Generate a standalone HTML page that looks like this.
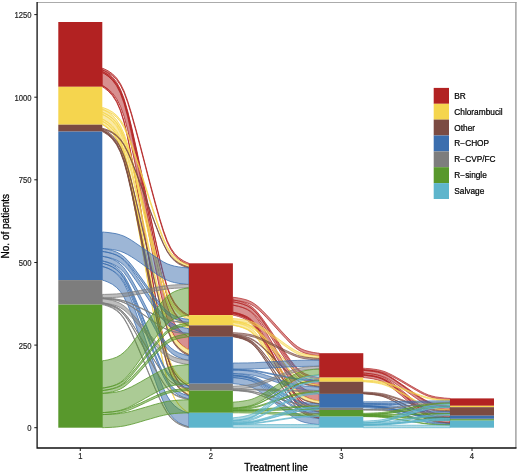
<!DOCTYPE html>
<html><head><meta charset="utf-8"><title>Treatment lines</title>
<style>
html,body{margin:0;padding:0;background:#fff}
body{width:520px;height:475px;position:relative;overflow:hidden;font-family:"Liberation Sans",sans-serif}
svg text{font-family:"Liberation Sans",sans-serif}
.t{font-size:8.5px;fill:#262626;stroke:#262626;stroke-width:0.2px}
.a{font-size:10px;fill:#000;stroke:#000;stroke-width:0.3px}
.l{font-size:8.3px;fill:#000;stroke:#000;stroke-width:0.22px}
</style></head><body>
<svg width="520" height="475" viewBox="0 0 520 475" style="position:absolute;left:0;top:0;will-change:transform">
<rect width="520" height="475" fill="#fff"/>
<path d="M37.1,2.5 H516.5" fill="none" stroke="#ababab" stroke-width="1"/>
<path d="M515.9,2 V448" fill="none" stroke="#9c9c9c" stroke-width="1.4"/>
<g stroke-width="0.8" fill-opacity="0.5" stroke-linejoin="round">
<path d="M102.3,68.2 L102.6,68.3 L104.4,69 L108,70.8 L112.4,73.8 L116.6,78 L120.4,83.6 L124,90.9 L127.6,100.7 L131.5,113.3 L135.8,128.7 L140.6,146.5 L145.6,165.8 L150.6,185 L155.4,202.8 L159.7,218.2 L163.6,230.8 L167.2,240.6 L170.8,248 L174.6,253.5 L178.8,257.7 L183.2,260.7 L186.8,262.5 L188.6,263.2 L188.9,263.3 L188.9,265 L188.6,264.9 L186.8,264.2 L183.2,262.4 L178.8,259.4 L174.6,255.2 L170.8,249.6 L167.2,242.3 L163.6,232.5 L159.7,219.9 L155.4,204.5 L150.6,186.7 L145.6,167.4 L140.6,148.2 L135.8,130.4 L131.5,115 L127.6,102.4 L124,92.6 L120.4,85.2 L116.6,79.7 L112.4,75.5 L108,72.5 L104.4,70.7 L102.6,70 L102.3,69.9Z" fill="#B22222" stroke="#B22222"/>
<path d="M102.3,69.9 L102.6,70 L104.4,70.9 L108,73.2 L112.4,76.9 L116.6,82.2 L120.4,89.2 L124,98.4 L127.6,110.8 L131.5,126.6 L135.8,145.9 L140.6,168.3 L145.6,192.5 L150.6,216.7 L155.4,239.1 L159.7,258.4 L163.6,274.2 L167.2,286.6 L170.8,295.8 L174.6,302.8 L178.8,308.1 L183.2,311.8 L186.8,314.1 L188.6,315 L188.9,315.1 L188.9,316.7 L188.6,316.5 L186.8,315.6 L183.2,313.4 L178.8,309.6 L174.6,304.3 L170.8,297.4 L167.2,288.1 L163.6,275.8 L159.7,260 L155.4,240.6 L150.6,218.2 L145.6,194.1 L140.6,169.9 L135.8,147.5 L131.5,128.1 L127.6,112.3 L124,100 L120.4,90.7 L116.6,83.8 L112.4,78.5 L108,74.7 L104.4,72.5 L102.6,71.6 L102.3,71.5Z" fill="#B22222" stroke="#B22222"/>
<path d="M102.3,71.5 L102.6,71.6 L104.4,72.5 L108,74.8 L112.4,78.7 L116.6,84.2 L120.4,91.4 L124,101 L127.6,113.8 L131.5,130.2 L135.8,150.2 L140.6,173.4 L145.6,198.4 L150.6,223.5 L155.4,246.7 L159.7,266.7 L163.6,283.1 L167.2,295.8 L170.8,305.4 L174.6,312.6 L178.8,318.1 L183.2,322 L186.8,324.4 L188.6,325.3 L188.9,325.4 L188.9,326.5 L188.6,326.4 L186.8,325.5 L183.2,323.2 L178.8,319.3 L174.6,313.8 L170.8,306.6 L167.2,297 L163.6,284.2 L159.7,267.8 L155.4,247.8 L150.6,224.6 L145.6,199.6 L140.6,174.5 L135.8,151.3 L131.5,131.3 L127.6,114.9 L124,102.2 L120.4,92.6 L116.6,85.3 L112.4,79.9 L108,76 L104.4,73.6 L102.6,72.7 L102.3,72.6Z" fill="#B22222" stroke="#B22222"/>
<path d="M102.3,72.6 L102.6,72.7 L104.4,73.7 L108,76.1 L112.4,80.2 L116.6,85.9 L120.4,93.4 L124,103.3 L127.6,116.6 L131.5,133.7 L135.8,154.5 L140.6,178.7 L145.6,204.7 L150.6,230.7 L155.4,254.9 L159.7,275.7 L163.6,292.8 L167.2,306.1 L170.8,316 L174.6,323.5 L178.8,329.2 L183.2,333.3 L186.8,335.7 L188.6,336.7 L188.9,336.8 L188.9,349.8 L188.6,349.6 L186.8,348.7 L183.2,346.2 L178.8,342.2 L174.6,336.5 L170.8,329 L167.2,319 L163.6,305.7 L159.7,288.7 L155.4,267.8 L150.6,243.7 L145.6,217.7 L140.6,191.6 L135.8,167.5 L131.5,146.6 L127.6,129.6 L124,116.3 L120.4,106.3 L116.6,98.8 L112.4,93.1 L108,89.1 L104.4,86.7 L102.6,85.7 L102.3,85.6Z" fill="#B22222" stroke="#B22222"/>
<path d="M102.3,85.6 L102.6,85.7 L104.4,86.8 L108,89.6 L112.4,94.3 L116.6,100.9 L120.4,109.5 L124,121.1 L127.6,136.4 L131.5,156.1 L135.8,180.1 L140.6,208 L145.6,238.1 L150.6,268.2 L155.4,296 L159.7,320.1 L163.6,339.8 L167.2,355.1 L170.8,366.6 L174.6,375.3 L178.8,381.8 L183.2,386.5 L186.8,389.3 L188.6,390.4 L188.9,390.6 L188.9,391.8 L188.6,391.7 L186.8,390.6 L183.2,387.8 L178.8,383.1 L174.6,376.5 L170.8,367.9 L167.2,356.3 L163.6,341 L159.7,321.3 L155.4,297.3 L150.6,269.4 L145.6,239.3 L140.6,209.2 L135.8,181.4 L131.5,157.3 L127.6,137.6 L124,122.3 L120.4,110.8 L116.6,102.1 L112.4,95.6 L108,90.9 L104.4,88.1 L102.6,87 L102.3,86.8Z" fill="#B22222" stroke="#B22222"/>
<path d="M102.3,107.4 L102.6,107.5 L104.4,108.1 L108,109.5 L112.4,111.9 L116.6,115.3 L120.4,119.8 L124,125.7 L127.6,133.7 L131.5,143.8 L135.8,156.3 L140.6,170.7 L145.6,186.2 L150.6,201.7 L155.4,216.1 L159.7,228.6 L163.6,238.7 L167.2,246.6 L170.8,252.6 L174.6,257.1 L178.8,260.5 L183.2,262.9 L186.8,264.3 L188.6,264.9 L188.9,265 L188.9,267 L188.6,266.9 L186.8,266.4 L183.2,264.9 L178.8,262.5 L174.6,259.1 L170.8,254.6 L167.2,248.7 L163.6,240.8 L159.7,230.6 L155.4,218.2 L150.6,203.8 L145.6,188.2 L140.6,172.7 L135.8,158.3 L131.5,145.9 L127.6,135.7 L124,127.8 L120.4,121.8 L116.6,117.4 L112.4,114 L108,111.6 L104.4,110.1 L102.6,109.5 L102.3,109.5Z" fill="#F5D54E" stroke="#F5D54E"/>
<path d="M102.3,109.5 L102.6,109.6 L104.4,110.3 L108,112.2 L112.4,115.4 L116.6,119.9 L120.4,125.7 L124,133.6 L127.6,144 L131.5,157.3 L135.8,173.7 L140.6,192.6 L145.6,213.1 L150.6,233.5 L155.4,252.4 L159.7,268.8 L163.6,282.1 L167.2,292.5 L170.8,300.4 L174.6,306.3 L178.8,310.7 L183.2,313.9 L186.8,315.8 L188.6,316.6 L188.9,316.7 L188.9,319.5 L188.6,319.4 L186.8,318.6 L183.2,316.7 L178.8,313.6 L174.6,309.1 L170.8,303.2 L167.2,295.4 L163.6,285 L159.7,271.6 L155.4,255.3 L150.6,236.3 L145.6,215.9 L140.6,195.5 L135.8,176.5 L131.5,160.2 L127.6,146.8 L124,136.4 L120.4,128.6 L116.6,122.7 L112.4,118.2 L108,115.1 L104.4,113.2 L102.6,112.4 L102.3,112.3Z" fill="#F5D54E" stroke="#F5D54E"/>
<path d="M102.3,112.3 L102.6,112.4 L104.4,113.2 L108,115.1 L112.4,118.4 L116.6,123.1 L120.4,129.1 L124,137.2 L127.6,148 L131.5,161.8 L135.8,178.7 L140.6,198.3 L145.6,219.4 L150.6,240.5 L155.4,260.1 L159.7,277 L163.6,290.8 L167.2,301.6 L170.8,309.7 L174.6,315.8 L178.8,320.4 L183.2,323.7 L186.8,325.7 L188.6,326.4 L188.9,326.5 L188.9,328.7 L188.6,328.6 L186.8,327.8 L183.2,325.8 L178.8,322.5 L174.6,317.9 L170.8,311.8 L167.2,303.7 L163.6,293 L159.7,279.2 L155.4,262.2 L150.6,242.7 L145.6,221.5 L140.6,200.4 L135.8,180.9 L131.5,163.9 L127.6,150.1 L124,139.4 L120.4,131.3 L116.6,125.2 L112.4,120.6 L108,117.3 L104.4,115.3 L102.6,114.5 L102.3,114.4Z" fill="#F5D54E" stroke="#F5D54E"/>
<path d="M102.3,114.4 L102.6,114.5 L104.4,115.4 L108,117.6 L112.4,121.2 L116.6,126.2 L120.4,132.9 L124,141.8 L127.6,153.6 L131.5,168.8 L135.8,187.4 L140.6,208.9 L145.6,232.1 L150.6,255.3 L155.4,276.8 L159.7,295.4 L163.6,310.5 L167.2,322.4 L170.8,331.3 L174.6,337.9 L178.8,343 L183.2,346.6 L186.8,348.8 L188.6,349.6 L188.9,349.8 L188.9,354.5 L188.6,354.4 L186.8,353.5 L183.2,351.3 L178.8,347.7 L174.6,342.7 L170.8,336 L167.2,327.1 L163.6,315.2 L159.7,300.1 L155.4,281.5 L150.6,260 L145.6,236.8 L140.6,213.6 L135.8,192.1 L131.5,173.5 L127.6,158.4 L124,146.5 L120.4,137.6 L116.6,131 L112.4,125.9 L108,122.3 L104.4,120.1 L102.6,119.3 L102.3,119.1Z" fill="#F5D54E" stroke="#F5D54E"/>
<path d="M102.3,119.1 L102.6,119.3 L104.4,120.2 L108,122.7 L112.4,126.7 L116.6,132.4 L120.4,139.9 L124,149.9 L127.6,163.2 L131.5,180.3 L135.8,201.2 L140.6,225.3 L145.6,251.4 L150.6,277.5 L155.4,301.7 L159.7,322.5 L163.6,339.6 L167.2,352.9 L170.8,362.9 L174.6,370.4 L178.8,376.1 L183.2,380.2 L186.8,382.6 L188.6,383.6 L188.9,383.7 L188.9,385.8 L188.6,385.7 L186.8,384.7 L183.2,382.3 L178.8,378.2 L174.6,372.6 L170.8,365 L167.2,355.1 L163.6,341.7 L159.7,324.7 L155.4,303.8 L150.6,279.6 L145.6,253.6 L140.6,227.5 L135.8,203.3 L131.5,182.4 L127.6,165.4 L124,152.1 L120.4,142.1 L116.6,134.6 L112.4,128.9 L108,124.8 L104.4,122.4 L102.6,121.4 L102.3,121.3Z" fill="#F5D54E" stroke="#F5D54E"/>
<path d="M102.3,121.3 L102.6,121.4 L104.4,122.4 L108,124.9 L112.4,129 L116.6,134.9 L120.4,142.5 L124,152.8 L127.6,166.4 L131.5,183.8 L135.8,205.2 L140.6,229.9 L145.6,256.6 L150.6,283.2 L155.4,307.9 L159.7,329.3 L163.6,346.7 L167.2,360.4 L170.8,370.6 L174.6,378.3 L178.8,384.1 L183.2,388.2 L186.8,390.7 L188.6,391.7 L188.9,391.8 L188.9,394.8 L188.6,394.7 L186.8,393.7 L183.2,391.2 L178.8,387.1 L174.6,381.3 L170.8,373.6 L167.2,363.4 L163.6,349.8 L159.7,332.3 L155.4,311 L150.6,286.2 L145.6,259.6 L140.6,232.9 L135.8,208.2 L131.5,186.8 L127.6,169.4 L124,155.8 L120.4,145.6 L116.6,137.9 L112.4,132.1 L108,127.9 L104.4,125.4 L102.6,124.4 L102.3,124.3Z" fill="#F5D54E" stroke="#F5D54E"/>
<path d="M102.3,124.3 L102.6,124.4 L104.4,125.5 L108,128.1 L112.4,132.6 L116.6,138.8 L120.4,147 L124,157.9 L127.6,172.4 L131.5,191 L135.8,213.7 L140.6,240.1 L145.6,268.5 L150.6,297 L155.4,323.3 L159.7,346.1 L163.6,364.7 L167.2,379.2 L170.8,390.1 L174.6,398.3 L178.8,404.5 L183.2,409 L186.8,411.6 L188.6,412.7 L188.9,412.8 L188.9,413.2 L188.6,413.1 L186.8,412 L183.2,409.4 L178.8,404.9 L174.6,398.7 L170.8,390.5 L167.2,379.6 L163.6,365.1 L159.7,346.5 L155.4,323.8 L150.6,297.4 L145.6,269 L140.6,240.5 L135.8,214.2 L131.5,191.4 L127.6,172.8 L124,158.3 L120.4,147.4 L116.6,139.2 L112.4,133 L108,128.5 L104.4,125.9 L102.6,124.8 L102.3,124.7Z" fill="#F5D54E" stroke="#F5D54E"/>
<path d="M102.3,128.2 L102.6,128.3 L104.4,128.8 L108,130.1 L112.4,132.2 L116.6,135.2 L120.4,139.1 L124,144.4 L127.6,151.3 L131.5,160.3 L135.8,171.2 L140.6,183.9 L145.6,197.6 L150.6,211.3 L155.4,224 L159.7,234.9 L163.6,243.9 L167.2,250.9 L170.8,256.1 L174.6,260.1 L178.8,263 L183.2,265.2 L186.8,266.5 L188.6,267 L188.9,267 L188.9,268 L188.6,267.9 L186.8,267.4 L183.2,266.1 L178.8,264 L174.6,261 L170.8,257 L167.2,251.8 L163.6,244.8 L159.7,235.9 L155.4,224.9 L150.6,212.2 L145.6,198.5 L140.6,184.9 L135.8,172.2 L131.5,161.2 L127.6,152.3 L124,145.3 L120.4,140.1 L116.6,136.1 L112.4,133.1 L108,131 L104.4,129.7 L102.6,129.2 L102.3,129.1Z" fill="#7B4B42" stroke="#7B4B42"/>
<path d="M102.3,129.1 L102.6,129.3 L104.4,130.1 L108,132.1 L112.4,135.6 L116.6,140.5 L120.4,146.9 L124,155.4 L127.6,166.7 L131.5,181.2 L135.8,199 L140.6,219.6 L145.6,241.8 L150.6,264 L155.4,284.6 L159.7,302.4 L163.6,316.9 L167.2,328.2 L170.8,336.8 L174.6,343.2 L178.8,348 L183.2,351.5 L186.8,353.5 L188.6,354.4 L188.9,354.5 L188.9,355.7 L188.6,355.6 L186.8,354.8 L183.2,352.7 L178.8,349.3 L174.6,344.4 L170.8,338 L167.2,329.5 L163.6,318.2 L159.7,303.6 L155.4,285.8 L150.6,265.3 L145.6,243.1 L140.6,220.8 L135.8,200.3 L131.5,182.5 L127.6,167.9 L124,156.6 L120.4,148.1 L116.6,141.7 L112.4,136.9 L108,133.4 L104.4,131.3 L102.6,130.5 L102.3,130.4Z" fill="#7B4B42" stroke="#7B4B42"/>
<path d="M102.3,130.4 L102.6,130.5 L104.4,131.4 L108,133.8 L112.4,137.7 L116.6,143.2 L120.4,150.5 L124,160.1 L127.6,173 L131.5,189.4 L135.8,209.6 L140.6,232.9 L145.6,258.1 L150.6,283.3 L155.4,306.6 L159.7,326.8 L163.6,343.3 L167.2,356.1 L170.8,365.8 L174.6,373 L178.8,378.5 L183.2,382.4 L186.8,384.8 L188.6,385.7 L188.9,385.8 L188.9,386.1 L188.6,386 L186.8,385.1 L183.2,382.7 L178.8,378.8 L174.6,373.3 L170.8,366.1 L167.2,356.4 L163.6,343.6 L159.7,327.1 L155.4,306.9 L150.6,283.6 L145.6,258.4 L140.6,233.2 L135.8,209.9 L131.5,189.7 L127.6,173.3 L124,160.4 L120.4,150.8 L116.6,143.5 L112.4,138 L108,134.1 L104.4,131.7 L102.6,130.8 L102.3,130.7Z" fill="#7B4B42" stroke="#7B4B42"/>
<path d="M102.3,130.7 L102.6,130.8 L104.4,131.8 L108,134.2 L112.4,138.3 L116.6,143.9 L120.4,151.5 L124,161.4 L127.6,174.7 L131.5,191.7 L135.8,212.6 L140.6,236.7 L145.6,262.8 L150.6,288.8 L155.4,312.9 L159.7,333.8 L163.6,350.8 L167.2,364.1 L170.8,374.1 L174.6,381.6 L178.8,387.3 L183.2,391.3 L186.8,393.8 L188.6,394.7 L188.9,394.8 L188.9,395.8 L188.6,395.6 L186.8,394.7 L183.2,392.2 L178.8,388.2 L174.6,382.5 L170.8,375 L167.2,365 L163.6,351.7 L159.7,334.7 L155.4,313.9 L150.6,289.7 L145.6,263.7 L140.6,237.6 L135.8,213.5 L131.5,192.7 L127.6,175.6 L124,162.3 L120.4,152.4 L116.6,144.9 L112.4,139.2 L108,135.1 L104.4,132.7 L102.6,131.7 L102.3,131.6Z" fill="#7B4B42" stroke="#7B4B42"/>
<path d="M102.3,232 L102.6,232 L104.4,232.2 L108,232.5 L112.4,233.1 L116.6,233.8 L120.4,234.9 L124,236.2 L127.6,238 L131.5,240.3 L135.8,243.2 L140.6,246.5 L145.6,250 L150.6,253.5 L155.4,256.8 L159.7,259.7 L163.6,262 L167.2,263.8 L170.8,265.1 L174.6,266.2 L178.8,266.9 L183.2,267.5 L186.8,267.8 L188.6,267.9 L188.9,268 L188.9,284.4 L188.6,284.4 L186.8,284.3 L183.2,283.9 L178.8,283.4 L174.6,282.6 L170.8,281.6 L167.2,280.2 L163.6,278.4 L159.7,276.1 L155.4,273.3 L150.6,270 L145.6,266.5 L140.6,262.9 L135.8,259.6 L131.5,256.8 L127.6,254.5 L124,252.7 L120.4,251.3 L116.6,250.3 L112.4,249.5 L108,249 L104.4,248.6 L102.6,248.5 L102.3,248.5Z" fill="#3B6EAE" stroke="#3B6EAE"/>
<path d="M102.3,248.5 L102.6,248.5 L104.4,248.8 L108,249.4 L112.4,250.5 L116.6,252.1 L120.4,254.1 L124,256.8 L127.6,260.3 L131.5,264.9 L135.8,270.5 L140.6,277 L145.6,284 L150.6,291 L155.4,297.5 L159.7,303.1 L163.6,307.7 L167.2,311.2 L170.8,313.9 L174.6,315.9 L178.8,317.5 L183.2,318.6 L186.8,319.2 L188.6,319.5 L188.9,319.5 L188.9,322.4 L188.6,322.4 L186.8,322.2 L183.2,321.5 L178.8,320.4 L174.6,318.9 L170.8,316.9 L167.2,314.2 L163.6,310.6 L159.7,306 L155.4,300.4 L150.6,293.9 L145.6,286.9 L140.6,279.9 L135.8,273.5 L131.5,267.9 L127.6,263.3 L124,259.7 L120.4,257 L116.6,255 L112.4,253.5 L108,252.4 L104.4,251.7 L102.6,251.5 L102.3,251.4Z" fill="#3B6EAE" stroke="#3B6EAE"/>
<path d="M102.3,251.4 L102.6,251.5 L104.4,251.8 L108,252.5 L112.4,253.7 L116.6,255.3 L120.4,257.5 L124,260.4 L127.6,264.3 L131.5,269.3 L135.8,275.4 L140.6,282.4 L145.6,290.1 L150.6,297.7 L155.4,304.7 L159.7,310.8 L163.6,315.8 L167.2,319.7 L170.8,322.6 L174.6,324.8 L178.8,326.5 L183.2,327.6 L186.8,328.4 L188.6,328.6 L188.9,328.7 L188.9,333.5 L188.6,333.5 L186.8,333.2 L183.2,332.5 L178.8,331.3 L174.6,329.7 L170.8,327.5 L167.2,324.5 L163.6,320.7 L159.7,315.7 L155.4,309.6 L150.6,302.5 L145.6,294.9 L140.6,287.3 L135.8,280.3 L131.5,274.2 L127.6,269.2 L124,265.3 L120.4,262.4 L116.6,260.2 L112.4,258.5 L108,257.3 L104.4,256.6 L102.6,256.3 L102.3,256.3Z" fill="#3B6EAE" stroke="#3B6EAE"/>
<path d="M102.3,256.3 L102.6,256.4 L104.4,256.7 L108,257.6 L112.4,259.2 L116.6,261.3 L120.4,264.1 L124,267.9 L127.6,272.9 L131.5,279.3 L135.8,287.1 L140.6,296.2 L145.6,306 L150.6,315.8 L155.4,324.9 L159.7,332.7 L163.6,339.2 L167.2,344.2 L170.8,347.9 L174.6,350.7 L178.8,352.9 L183.2,354.4 L186.8,355.3 L188.6,355.7 L188.9,355.7 L188.9,360.4 L188.6,360.3 L186.8,360 L183.2,359.1 L178.8,357.5 L174.6,355.4 L170.8,352.6 L167.2,348.8 L163.6,343.8 L159.7,337.4 L155.4,329.6 L150.6,320.5 L145.6,310.7 L140.6,300.9 L135.8,291.8 L131.5,284 L127.6,277.5 L124,272.5 L120.4,268.8 L116.6,266 L112.4,263.8 L108,262.3 L104.4,261.4 L102.6,261 L102.3,261Z" fill="#3B6EAE" stroke="#3B6EAE"/>
<path d="M102.3,261 L102.6,261 L104.4,261.5 L108,262.6 L112.4,264.6 L116.6,267.3 L120.4,270.8 L124,275.5 L127.6,281.8 L131.5,289.9 L135.8,299.8 L140.6,311.2 L145.6,323.6 L150.6,335.9 L155.4,347.3 L159.7,357.2 L163.6,365.3 L167.2,371.6 L170.8,376.3 L174.6,379.9 L178.8,382.5 L183.2,384.5 L186.8,385.6 L188.6,386.1 L188.9,386.1 L188.9,388.4 L188.6,388.3 L186.8,387.9 L183.2,386.7 L178.8,384.8 L174.6,382.1 L170.8,378.6 L167.2,373.8 L163.6,367.5 L159.7,359.5 L155.4,349.6 L150.6,338.2 L145.6,325.8 L140.6,313.5 L135.8,302.1 L131.5,292.2 L127.6,284.1 L124,277.8 L120.4,273.1 L116.6,269.5 L112.4,266.8 L108,264.9 L104.4,263.8 L102.6,263.3 L102.3,263.2Z" fill="#3B6EAE" stroke="#3B6EAE"/>
<path d="M102.3,263.2 L102.6,263.3 L104.4,263.8 L108,265 L112.4,267.1 L116.6,269.9 L120.4,273.7 L124,278.7 L127.6,285.3 L131.5,293.9 L135.8,304.3 L140.6,316.4 L145.6,329.5 L150.6,342.6 L155.4,354.7 L159.7,365.1 L163.6,373.7 L167.2,380.3 L170.8,385.3 L174.6,389.1 L178.8,392 L183.2,394 L186.8,395.2 L188.6,395.7 L188.9,395.8 L188.9,399 L188.6,398.9 L186.8,398.4 L183.2,397.2 L178.8,395.2 L174.6,392.3 L170.8,388.6 L167.2,383.6 L163.6,376.9 L159.7,368.4 L155.4,357.9 L150.6,345.8 L145.6,332.7 L140.6,319.7 L135.8,307.6 L131.5,297.1 L127.6,288.5 L124,281.9 L120.4,276.9 L116.6,273.1 L112.4,270.3 L108,268.2 L104.4,267 L102.6,266.5 L102.3,266.5Z" fill="#3B6EAE" stroke="#3B6EAE"/>
<path d="M102.3,266.5 L102.6,266.5 L104.4,267.1 L108,268.4 L112.4,270.7 L116.6,273.8 L120.4,278 L124,283.5 L127.6,290.9 L131.5,300.4 L135.8,312 L140.6,325.4 L145.6,339.8 L150.6,354.3 L155.4,367.7 L159.7,379.3 L163.6,388.8 L167.2,396.1 L170.8,401.7 L174.6,405.8 L178.8,409 L183.2,411.3 L186.8,412.6 L188.6,413.1 L188.9,413.2 L188.9,426.9 L188.6,426.8 L186.8,426.2 L183.2,424.9 L178.8,422.6 L174.6,419.5 L170.8,415.3 L167.2,409.8 L163.6,402.4 L159.7,392.9 L155.4,381.3 L150.6,367.9 L145.6,353.5 L140.6,339 L135.8,325.6 L131.5,314 L127.6,304.6 L124,297.2 L120.4,291.6 L116.6,287.5 L112.4,284.3 L108,282.1 L104.4,280.7 L102.6,280.2 L102.3,280.1Z" fill="#3B6EAE" stroke="#3B6EAE"/>
<path d="M102.3,294.4 L102.6,294.4 L104.4,294.4 L108,294.3 L112.4,294.1 L116.6,293.9 L120.4,293.6 L124,293.2 L127.6,292.7 L131.5,292.1 L135.8,291.3 L140.6,290.4 L145.6,289.4 L150.6,288.4 L155.4,287.5 L159.7,286.7 L163.6,286.1 L167.2,285.6 L170.8,285.2 L174.6,284.9 L178.8,284.7 L183.2,284.6 L186.8,284.5 L188.6,284.4 L188.9,284.4 L188.9,287.8 L188.6,287.9 L186.8,287.9 L183.2,288 L178.8,288.1 L174.6,288.3 L170.8,288.6 L167.2,289 L163.6,289.5 L159.7,290.2 L155.4,290.9 L150.6,291.9 L145.6,292.8 L140.6,293.8 L135.8,294.7 L131.5,295.5 L127.6,296.2 L124,296.7 L120.4,297 L116.6,297.3 L112.4,297.5 L108,297.7 L104.4,297.8 L102.6,297.8 L102.3,297.8Z" fill="#7D7D7D" stroke="#7D7D7D"/>
<path d="M102.3,297.8 L102.6,297.8 L104.4,297.9 L108,298.2 L112.4,298.5 L116.6,299.1 L120.4,299.8 L124,300.7 L127.6,301.9 L131.5,303.5 L135.8,305.5 L140.6,307.7 L145.6,310.1 L150.6,312.6 L155.4,314.8 L159.7,316.8 L163.6,318.3 L167.2,319.6 L170.8,320.5 L174.6,321.2 L178.8,321.7 L183.2,322.1 L186.8,322.3 L188.6,322.4 L188.9,322.4 L188.9,323 L188.6,323 L186.8,322.9 L183.2,322.6 L178.8,322.3 L174.6,321.7 L170.8,321 L167.2,320.1 L163.6,318.9 L159.7,317.3 L155.4,315.3 L150.6,313.1 L145.6,310.7 L140.6,308.2 L135.8,306 L131.5,304 L127.6,302.4 L124,301.2 L120.4,300.3 L116.6,299.6 L112.4,299 L108,298.7 L104.4,298.4 L102.6,298.4 L102.3,298.3Z" fill="#7D7D7D" stroke="#7D7D7D"/>
<path d="M102.3,298.3 L102.6,298.4 L104.4,298.5 L108,298.8 L112.4,299.4 L116.6,300.1 L120.4,301.1 L124,302.4 L127.6,304.2 L131.5,306.5 L135.8,309.3 L140.6,312.5 L145.6,315.9 L150.6,319.4 L155.4,322.6 L159.7,325.4 L163.6,327.7 L167.2,329.4 L170.8,330.8 L174.6,331.8 L178.8,332.5 L183.2,333.1 L186.8,333.4 L188.6,333.5 L188.9,333.5 L188.9,333.9 L188.6,333.9 L186.8,333.7 L183.2,333.4 L178.8,332.9 L174.6,332.1 L170.8,331.1 L167.2,329.8 L163.6,328 L159.7,325.7 L155.4,323 L150.6,319.7 L145.6,316.3 L140.6,312.8 L135.8,309.6 L131.5,306.8 L127.6,304.5 L124,302.8 L120.4,301.4 L116.6,300.4 L112.4,299.7 L108,299.1 L104.4,298.8 L102.6,298.7 L102.3,298.7Z" fill="#7D7D7D" stroke="#7D7D7D"/>
<path d="M102.3,298.7 L102.6,298.7 L104.4,298.9 L108,299.5 L112.4,300.4 L116.6,301.8 L120.4,303.5 L124,305.9 L127.6,309 L131.5,312.9 L135.8,317.8 L140.6,323.5 L145.6,329.5 L150.6,335.6 L155.4,341.3 L159.7,346.1 L163.6,350.1 L167.2,353.2 L170.8,355.5 L174.6,357.3 L178.8,358.6 L183.2,359.6 L186.8,360.1 L188.6,360.4 L188.9,360.4 L188.9,364.6 L188.6,364.5 L186.8,364.3 L183.2,363.7 L178.8,362.8 L174.6,361.5 L170.8,359.7 L167.2,357.4 L163.6,354.3 L159.7,350.3 L155.4,345.4 L150.6,339.8 L145.6,333.7 L140.6,327.6 L135.8,322 L131.5,317.1 L127.6,313.1 L124,310 L120.4,307.7 L116.6,305.9 L112.4,304.6 L108,303.7 L104.4,303.1 L102.6,302.9 L102.3,302.8Z" fill="#7D7D7D" stroke="#7D7D7D"/>
<path d="M102.3,302.8 L102.6,302.9 L104.4,303.2 L108,304 L112.4,305.3 L116.6,307.1 L120.4,309.6 L124,312.8 L127.6,317.1 L131.5,322.6 L135.8,329.4 L140.6,337.2 L145.6,345.6 L150.6,354.1 L155.4,361.9 L159.7,368.6 L163.6,374.1 L167.2,378.4 L170.8,381.7 L174.6,384.1 L178.8,385.9 L183.2,387.3 L186.8,388.1 L188.6,388.4 L188.9,388.4 L188.9,388.6 L188.6,388.5 L186.8,388.2 L183.2,387.4 L178.8,386.1 L174.6,384.3 L170.8,381.9 L167.2,378.6 L163.6,374.3 L159.7,368.8 L155.4,362.1 L150.6,354.2 L145.6,345.8 L140.6,337.4 L135.8,329.6 L131.5,322.8 L127.6,317.3 L124,313 L120.4,309.8 L116.6,307.3 L112.4,305.5 L108,304.2 L104.4,303.4 L102.6,303.1 L102.3,303Z" fill="#7D7D7D" stroke="#7D7D7D"/>
<path d="M102.3,303 L102.6,303.1 L104.4,303.4 L108,304.3 L112.4,305.8 L116.6,307.8 L120.4,310.6 L124,314.2 L127.6,319 L131.5,325.2 L135.8,332.8 L140.6,341.5 L145.6,351 L150.6,360.5 L155.4,369.2 L159.7,376.8 L163.6,383 L167.2,387.8 L170.8,391.4 L174.6,394.2 L178.8,396.2 L183.2,397.7 L186.8,398.6 L188.6,398.9 L188.9,399 L188.9,399.7 L188.6,399.7 L186.8,399.3 L183.2,398.4 L178.8,397 L174.6,394.9 L170.8,392.2 L167.2,388.5 L163.6,383.7 L159.7,377.5 L155.4,370 L150.6,361.2 L145.6,351.7 L140.6,342.3 L135.8,333.5 L131.5,325.9 L127.6,319.7 L124,314.9 L120.4,311.3 L116.6,308.6 L112.4,306.5 L108,305 L104.4,304.1 L102.6,303.8 L102.3,303.8Z" fill="#7D7D7D" stroke="#7D7D7D"/>
<path d="M102.3,303.8 L102.6,303.8 L104.4,304.3 L108,305.4 L112.4,307.3 L116.6,309.9 L120.4,313.4 L124,318.1 L127.6,324.3 L131.5,332.2 L135.8,341.9 L140.6,353.2 L145.6,365.3 L150.6,377.4 L155.4,388.7 L159.7,398.4 L163.6,406.3 L167.2,412.5 L170.8,417.2 L174.6,420.7 L178.8,423.3 L183.2,425.2 L186.8,426.3 L188.6,426.8 L188.9,426.9 L188.9,427.7 L188.6,427.6 L186.8,427.2 L183.2,426.1 L178.8,424.2 L174.6,421.5 L170.8,418 L167.2,413.4 L163.6,407.2 L159.7,399.2 L155.4,389.5 L150.6,378.3 L145.6,366.1 L140.6,354 L135.8,342.8 L131.5,333.1 L127.6,325.1 L124,318.9 L120.4,314.3 L116.6,310.8 L112.4,308.1 L108,306.2 L104.4,305.1 L102.6,304.7 L102.3,304.6Z" fill="#7D7D7D" stroke="#7D7D7D"/>
<path d="M102.3,360.8 L102.6,360.8 L104.4,360.5 L108,359.9 L112.4,358.7 L116.6,357.2 L120.4,355.1 L124,352.3 L127.6,348.7 L131.5,344 L135.8,338.2 L140.6,331.5 L145.6,324.3 L150.6,317.1 L155.4,310.5 L159.7,304.7 L163.6,300 L167.2,296.3 L170.8,293.6 L174.6,291.5 L178.8,289.9 L183.2,288.8 L186.8,288.1 L188.6,287.9 L188.9,287.8 L188.9,315.1 L188.6,315.1 L186.8,315.4 L183.2,316.1 L178.8,317.2 L174.6,318.8 L170.8,320.8 L167.2,323.6 L163.6,327.3 L159.7,332 L155.4,337.7 L150.6,344.4 L145.6,351.6 L140.6,358.8 L135.8,365.5 L131.5,371.2 L127.6,375.9 L124,379.6 L120.4,382.4 L116.6,384.4 L112.4,386 L108,387.1 L104.4,387.8 L102.6,388.1 L102.3,388.1Z" fill="#58982C" stroke="#58982C"/>
<path d="M102.3,388.1 L102.6,388.1 L104.4,387.8 L108,387.2 L112.4,386.2 L116.6,384.8 L120.4,383 L124,380.5 L127.6,377.2 L131.5,373 L135.8,367.9 L140.6,361.9 L145.6,355.5 L150.6,349.1 L155.4,343.2 L159.7,338 L163.6,333.8 L167.2,330.5 L170.8,328.1 L174.6,326.2 L178.8,324.8 L183.2,323.8 L186.8,323.2 L188.6,323 L188.9,323 L188.9,325.4 L188.6,325.4 L186.8,325.7 L183.2,326.3 L178.8,327.3 L174.6,328.7 L170.8,330.5 L167.2,333 L163.6,336.3 L159.7,340.5 L155.4,345.6 L150.6,351.5 L145.6,358 L140.6,364.4 L135.8,370.3 L131.5,375.5 L127.6,379.7 L124,383 L120.4,385.4 L116.6,387.3 L112.4,388.7 L108,389.7 L104.4,390.3 L102.6,390.5 L102.3,390.5Z" fill="#58982C" stroke="#58982C"/>
<path d="M102.3,390.5 L102.6,390.5 L104.4,390.3 L108,389.8 L112.4,388.9 L116.6,387.7 L120.4,386.1 L124,383.9 L127.6,381.1 L131.5,377.4 L135.8,373 L140.6,367.8 L145.6,362.2 L150.6,356.6 L155.4,351.4 L159.7,347 L163.6,343.3 L167.2,340.5 L170.8,338.3 L174.6,336.7 L178.8,335.5 L183.2,334.6 L186.8,334.1 L188.6,333.9 L188.9,333.9 L188.9,336.8 L188.6,336.8 L186.8,337 L183.2,337.6 L178.8,338.4 L174.6,339.6 L170.8,341.3 L167.2,343.4 L163.6,346.2 L159.7,349.9 L155.4,354.4 L150.6,359.5 L145.6,365.1 L140.6,370.7 L135.8,375.9 L131.5,380.4 L127.6,384 L124,386.9 L120.4,389 L116.6,390.6 L112.4,391.8 L108,392.7 L104.4,393.2 L102.6,393.4 L102.3,393.5Z" fill="#58982C" stroke="#58982C"/>
<path d="M102.3,393.5 L102.6,393.4 L104.4,393.3 L108,393.1 L112.4,392.6 L116.6,392 L120.4,391.2 L124,390.1 L127.6,388.6 L131.5,386.8 L135.8,384.5 L140.6,381.9 L145.6,379 L150.6,376.2 L155.4,373.5 L159.7,371.2 L163.6,369.4 L167.2,367.9 L170.8,366.8 L174.6,366 L178.8,365.4 L183.2,365 L186.8,364.7 L188.6,364.6 L188.9,364.6 L188.9,383.7 L188.6,383.7 L186.8,383.8 L183.2,384.1 L178.8,384.5 L174.6,385.2 L170.8,386 L167.2,387.1 L163.6,388.5 L159.7,390.4 L155.4,392.7 L150.6,395.3 L145.6,398.1 L140.6,401 L135.8,403.6 L131.5,405.9 L127.6,407.8 L124,409.2 L120.4,410.3 L116.6,411.1 L112.4,411.8 L108,412.2 L104.4,412.5 L102.6,412.6 L102.3,412.6Z" fill="#58982C" stroke="#58982C"/>
<path d="M102.3,412.6 L102.6,412.6 L104.4,412.5 L108,412.3 L112.4,411.9 L116.6,411.4 L120.4,410.7 L124,409.8 L127.6,408.6 L131.5,407 L135.8,405.1 L140.6,403 L145.6,400.6 L150.6,398.2 L155.4,396 L159.7,394.1 L163.6,392.6 L167.2,391.4 L170.8,390.5 L174.6,389.8 L178.8,389.3 L183.2,388.9 L186.8,388.7 L188.6,388.6 L188.9,388.6 L188.9,390.6 L188.6,390.6 L186.8,390.7 L183.2,390.9 L178.8,391.3 L174.6,391.8 L170.8,392.5 L167.2,393.4 L163.6,394.6 L159.7,396.1 L155.4,398 L150.6,400.2 L145.6,402.6 L140.6,405 L135.8,407.2 L131.5,409.1 L127.6,410.6 L124,411.8 L120.4,412.7 L116.6,413.4 L112.4,413.9 L108,414.3 L104.4,414.5 L102.6,414.6 L102.3,414.6Z" fill="#58982C" stroke="#58982C"/>
<path d="M102.3,414.6 L102.6,414.6 L104.4,414.5 L108,414.4 L112.4,414.2 L116.6,413.9 L120.4,413.4 L124,412.9 L127.6,412.1 L131.5,411.2 L135.8,410 L140.6,408.6 L145.6,407.2 L150.6,405.7 L155.4,404.3 L159.7,403.2 L163.6,402.2 L167.2,401.4 L170.8,400.9 L174.6,400.5 L178.8,400.1 L183.2,399.9 L186.8,399.8 L188.6,399.7 L188.9,399.7 L188.9,412.8 L188.6,412.8 L186.8,412.9 L183.2,413 L178.8,413.2 L174.6,413.5 L170.8,414 L167.2,414.5 L163.6,415.3 L159.7,416.2 L155.4,417.4 L150.6,418.8 L145.6,420.2 L140.6,421.7 L135.8,423.1 L131.5,424.3 L127.6,425.2 L124,426 L120.4,426.5 L116.6,427 L112.4,427.3 L108,427.5 L104.4,427.6 L102.6,427.7 L102.3,427.7Z" fill="#58982C" stroke="#58982C"/>
<path d="M232.9,297.3 L233.2,297.3 L235,297.5 L238.6,298 L242.9,298.9 L247.2,300.1 L251,301.7 L254.5,303.8 L258.1,306.6 L262,310.2 L266.3,314.6 L271.1,319.7 L276.1,325.2 L281.1,330.8 L285.9,335.9 L290.2,340.3 L294.1,343.9 L297.7,346.7 L301.2,348.8 L305,350.4 L309.3,351.6 L313.6,352.5 L317.2,353 L319,353.2 L319.3,353.2 L319.3,356 L319,355.9 L317.2,355.7 L313.6,355.2 L309.3,354.4 L305,353.2 L301.2,351.6 L297.7,349.5 L294.1,346.7 L290.2,343.1 L285.9,338.6 L281.1,333.5 L276.1,328 L271.1,322.5 L266.3,317.4 L262,313 L258.1,309.4 L254.5,306.6 L251,304.5 L247.2,302.9 L242.9,301.7 L238.6,300.8 L235,300.3 L233.2,300.1 L232.9,300.1Z" fill="#B22222" stroke="#B22222" stroke-width="0.7"/>
<path d="M232.9,300.1 L233.2,300.1 L235,300.4 L238.6,301.1 L242.9,302.3 L247.2,304 L251,306.2 L254.5,309.1 L258.1,313 L262,318 L266.3,324.1 L271.1,331.2 L276.1,338.8 L281.1,346.5 L285.9,353.6 L290.2,359.7 L294.1,364.7 L297.7,368.6 L301.2,371.5 L305,373.7 L309.3,375.4 L313.6,376.6 L317.2,377.3 L319,377.6 L319.3,377.6 L319.3,379.4 L319,379.4 L317.2,379.1 L313.6,378.4 L309.3,377.2 L305,375.5 L301.2,373.3 L297.7,370.4 L294.1,366.5 L290.2,361.5 L285.9,355.4 L281.1,348.3 L276.1,340.7 L271.1,333 L266.3,325.9 L262,319.8 L258.1,314.8 L254.5,310.9 L251,308 L247.2,305.8 L242.9,304.1 L238.6,302.9 L235,302.2 L233.2,301.9 L232.9,301.9Z" fill="#B22222" stroke="#B22222" stroke-width="0.7"/>
<path d="M232.9,301.9 L233.2,301.9 L235,302.2 L238.6,303 L242.9,304.2 L247.2,305.9 L251,308.2 L254.5,311.2 L258.1,315.2 L262,320.4 L266.3,326.7 L271.1,334 L276.1,341.9 L281.1,349.7 L285.9,357 L290.2,363.3 L294.1,368.5 L297.7,372.5 L301.2,375.5 L305,377.8 L309.3,379.5 L313.6,380.7 L317.2,381.5 L319,381.8 L319.3,381.8 L319.3,385.1 L319,385 L317.2,384.8 L313.6,384 L309.3,382.8 L305,381.1 L301.2,378.8 L297.7,375.8 L294.1,371.8 L290.2,366.6 L285.9,360.3 L281.1,353 L276.1,345.1 L271.1,337.3 L266.3,330 L262,323.7 L258.1,318.5 L254.5,314.5 L251,311.5 L247.2,309.2 L242.9,307.5 L238.6,306.3 L235,305.5 L233.2,305.2 L232.9,305.2Z" fill="#B22222" stroke="#B22222" stroke-width="0.7"/>
<path d="M232.9,305.2 L233.2,305.2 L235,305.6 L238.6,306.4 L242.9,307.7 L247.2,309.6 L251,312.2 L254.5,315.5 L258.1,320 L262,325.7 L266.3,332.7 L271.1,340.8 L276.1,349.5 L281.1,358.3 L285.9,366.4 L290.2,373.4 L294.1,379.1 L297.7,383.6 L301.2,386.9 L305,389.4 L309.3,391.4 L313.6,392.7 L317.2,393.5 L319,393.9 L319.3,393.9 L319.3,401 L319,400.9 L317.2,400.6 L313.6,399.8 L309.3,398.4 L305,396.5 L301.2,394 L297.7,390.6 L294.1,386.2 L290.2,380.5 L285.9,373.4 L281.1,365.3 L276.1,356.6 L271.1,347.9 L266.3,339.8 L262,332.7 L258.1,327 L254.5,322.6 L251,319.2 L247.2,316.7 L242.9,314.8 L238.6,313.4 L235,312.6 L233.2,312.3 L232.9,312.2Z" fill="#B22222" stroke="#B22222" stroke-width="0.7"/>
<path d="M232.9,312.2 L233.2,312.3 L235,312.6 L238.6,313.5 L242.9,315 L247.2,317 L251,319.8 L254.5,323.4 L258.1,328.2 L262,334.3 L266.3,341.9 L271.1,350.6 L276.1,360 L281.1,369.4 L285.9,378.2 L290.2,385.7 L294.1,391.9 L297.7,396.7 L301.2,400.3 L305,403 L309.3,405.1 L313.6,406.5 L317.2,407.4 L319,407.8 L319.3,407.8 L319.3,408.3 L319,408.3 L317.2,407.9 L313.6,407.1 L309.3,405.6 L305,403.5 L301.2,400.8 L297.7,397.2 L294.1,392.4 L290.2,386.2 L285.9,378.7 L281.1,370 L276.1,360.6 L271.1,351.1 L266.3,342.4 L262,334.9 L258.1,328.7 L254.5,323.9 L251,320.3 L247.2,317.6 L242.9,315.5 L238.6,314 L235,313.2 L233.2,312.8 L232.9,312.8Z" fill="#B22222" stroke="#B22222" stroke-width="0.7"/>
<path d="M232.9,312.8 L233.2,312.8 L235,313.2 L238.6,314.1 L242.9,315.6 L247.2,317.7 L251,320.4 L254.5,324.1 L258.1,329 L262,335.2 L266.3,342.9 L271.1,351.8 L276.1,361.4 L281.1,371 L285.9,379.9 L290.2,387.5 L294.1,393.8 L297.7,398.7 L301.2,402.4 L305,405.1 L309.3,407.2 L313.6,408.7 L317.2,409.6 L319,410 L319.3,410 L319.3,410.9 L319,410.9 L317.2,410.5 L313.6,409.6 L309.3,408.1 L305,406 L301.2,403.3 L297.7,399.6 L294.1,394.7 L290.2,388.4 L285.9,380.8 L281.1,371.9 L276.1,362.3 L271.1,352.7 L266.3,343.8 L262,336.2 L258.1,329.9 L254.5,325 L251,321.3 L247.2,318.6 L242.9,316.5 L238.6,315 L235,314.1 L233.2,313.7 L232.9,313.7Z" fill="#B22222" stroke="#B22222" stroke-width="0.7"/>
<path d="M232.9,313.7 L233.2,313.7 L235,314.1 L238.6,315.1 L242.9,316.6 L247.2,318.9 L251,321.8 L254.5,325.7 L258.1,330.8 L262,337.5 L266.3,345.6 L271.1,355 L276.1,365.1 L281.1,375.3 L285.9,384.7 L290.2,392.8 L294.1,399.4 L297.7,404.6 L301.2,408.5 L305,411.4 L309.3,413.6 L313.6,415.2 L317.2,416.2 L319,416.5 L319.3,416.6 L319.3,418 L319,418 L317.2,417.6 L313.6,416.6 L309.3,415.1 L305,412.8 L301.2,409.9 L297.7,406 L294.1,400.9 L290.2,394.2 L285.9,386.1 L281.1,376.7 L276.1,366.6 L271.1,356.4 L266.3,347 L262,338.9 L258.1,332.3 L254.5,327.1 L251,323.2 L247.2,320.3 L242.9,318.1 L238.6,316.5 L235,315.5 L233.2,315.2 L232.9,315.1Z" fill="#B22222" stroke="#B22222" stroke-width="0.7"/>
<path d="M232.9,318.5 L233.2,318.5 L235,318.7 L238.6,319 L242.9,319.6 L247.2,320.4 L251,321.4 L254.5,322.9 L258.1,324.7 L262,327.2 L266.3,330.1 L271.1,333.5 L276.1,337.2 L281.1,340.9 L285.9,344.4 L290.2,347.3 L294.1,349.7 L297.7,351.6 L301.2,353 L305,354.1 L309.3,354.9 L313.6,355.5 L317.2,355.8 L319,356 L319.3,356 L319.3,358.4 L319,358.3 L317.2,358.2 L313.6,357.9 L309.3,357.3 L305,356.5 L301.2,355.4 L297.7,354 L294.1,352.1 L290.2,349.7 L285.9,346.7 L281.1,343.3 L276.1,339.6 L271.1,335.9 L266.3,332.5 L262,329.5 L258.1,327.1 L254.5,325.2 L251,323.8 L247.2,322.8 L242.9,322 L238.6,321.4 L235,321 L233.2,320.9 L232.9,320.9Z" fill="#F5D54E" stroke="#F5D54E" stroke-width="0.7"/>
<path d="M232.9,320.9 L233.2,320.9 L235,321.1 L238.6,321.7 L242.9,322.6 L247.2,323.8 L251,325.5 L254.5,327.7 L258.1,330.6 L262,334.4 L266.3,339 L271.1,344.4 L276.1,350.2 L281.1,355.9 L285.9,361.3 L290.2,365.9 L294.1,369.7 L297.7,372.6 L301.2,374.8 L305,376.5 L309.3,377.8 L313.6,378.7 L317.2,379.2 L319,379.4 L319.3,379.4 L319.3,379.9 L319,379.8 L317.2,379.6 L313.6,379.1 L309.3,378.2 L305,376.9 L301.2,375.3 L297.7,373.1 L294.1,370.1 L290.2,366.3 L285.9,361.7 L281.1,356.4 L276.1,350.6 L271.1,344.8 L266.3,339.5 L262,334.9 L258.1,331.1 L254.5,328.1 L251,325.9 L247.2,324.3 L242.9,323 L238.6,322.1 L235,321.6 L233.2,321.4 L232.9,321.3Z" fill="#F5D54E" stroke="#F5D54E" stroke-width="0.7"/>
<path d="M232.9,321.3 L233.2,321.4 L235,321.6 L238.6,322.2 L242.9,323.2 L247.2,324.5 L251,326.3 L254.5,328.7 L258.1,331.9 L262,336.1 L266.3,341.1 L271.1,346.9 L276.1,353.2 L281.1,359.5 L285.9,365.3 L290.2,370.3 L294.1,374.5 L297.7,377.7 L301.2,380.1 L305,381.9 L309.3,383.3 L313.6,384.2 L317.2,384.8 L319,385 L319.3,385.1 L319.3,386.1 L319,386.1 L317.2,385.9 L313.6,385.3 L309.3,384.3 L305,382.9 L301.2,381.1 L297.7,378.7 L294.1,375.5 L290.2,371.4 L285.9,366.4 L281.1,360.6 L276.1,354.3 L271.1,348 L266.3,342.2 L262,337.1 L258.1,333 L254.5,329.8 L251,327.4 L247.2,325.6 L242.9,324.2 L238.6,323.2 L235,322.7 L233.2,322.4 L232.9,322.4Z" fill="#F5D54E" stroke="#F5D54E" stroke-width="0.7"/>
<path d="M232.9,322.4 L233.2,322.4 L235,322.7 L238.6,323.4 L242.9,324.6 L247.2,326.3 L251,328.6 L254.5,331.5 L258.1,335.5 L262,340.5 L266.3,346.8 L271.1,353.9 L276.1,361.7 L281.1,369.4 L285.9,376.6 L290.2,382.8 L294.1,387.9 L297.7,391.8 L301.2,394.8 L305,397 L309.3,398.7 L313.6,399.9 L317.2,400.6 L319,400.9 L319.3,401 L319.3,403.6 L319,403.6 L317.2,403.3 L313.6,402.6 L309.3,401.3 L305,399.7 L301.2,397.4 L297.7,394.5 L294.1,390.5 L290.2,385.4 L285.9,379.2 L281.1,372.1 L276.1,364.3 L271.1,356.6 L266.3,349.4 L262,343.2 L258.1,338.1 L254.5,334.2 L251,331.2 L247.2,329 L242.9,327.3 L238.6,326.1 L235,325.4 L233.2,325.1 L232.9,325Z" fill="#F5D54E" stroke="#F5D54E" stroke-width="0.7"/>
<path d="M232.9,325 L233.2,325.1 L235,325.4 L238.6,326.2 L242.9,327.5 L247.2,329.3 L251,331.8 L254.5,335 L258.1,339.3 L262,344.9 L266.3,351.7 L271.1,359.5 L276.1,368 L281.1,376.4 L285.9,384.3 L290.2,391.1 L294.1,396.6 L297.7,400.9 L301.2,404.2 L305,406.6 L309.3,408.5 L313.6,409.8 L317.2,410.6 L319,410.9 L319.3,410.9 L319.3,411.3 L319,411.2 L317.2,410.9 L313.6,410.1 L309.3,408.8 L305,407 L301.2,404.5 L297.7,401.3 L294.1,397 L290.2,391.4 L285.9,384.7 L281.1,376.8 L276.1,368.3 L271.1,359.9 L266.3,352 L262,345.3 L258.1,339.7 L254.5,335.4 L251,332.2 L247.2,329.7 L242.9,327.9 L238.6,326.5 L235,325.8 L233.2,325.4 L232.9,325.4Z" fill="#F5D54E" stroke="#F5D54E" stroke-width="0.7"/>
<path d="M232.9,332.7 L233.2,332.7 L235,332.8 L238.6,333 L242.9,333.4 L247.2,334 L251,334.7 L254.5,335.7 L258.1,337 L262,338.6 L266.3,340.7 L271.1,343 L276.1,345.5 L281.1,348.1 L285.9,350.4 L290.2,352.4 L294.1,354.1 L297.7,355.4 L301.2,356.3 L305,357.1 L309.3,357.6 L313.6,358 L317.2,358.3 L319,358.3 L319.3,358.4 L319.3,360 L319,360 L317.2,359.9 L313.6,359.7 L309.3,359.3 L305,358.7 L301.2,358 L297.7,357 L294.1,355.7 L290.2,354.1 L285.9,352.1 L281.1,349.7 L276.1,347.2 L271.1,344.7 L266.3,342.3 L262,340.3 L258.1,338.6 L254.5,337.3 L251,336.4 L247.2,335.6 L242.9,335.1 L238.6,334.7 L235,334.5 L233.2,334.4 L232.9,334.4Z" fill="#7B4B42" stroke="#7B4B42" stroke-width="0.7"/>
<path d="M232.9,334.4 L233.2,334.4 L235,334.6 L238.6,335.1 L242.9,335.8 L247.2,337 L251,338.4 L254.5,340.4 L258.1,343 L262,346.3 L266.3,350.4 L271.1,355.1 L276.1,360.3 L281.1,365.4 L285.9,370.1 L290.2,374.2 L294.1,377.5 L297.7,380.1 L301.2,382.1 L305,383.5 L309.3,384.7 L313.6,385.5 L317.2,385.9 L319,386.1 L319.3,386.1 L319.3,387 L319,387 L317.2,386.8 L313.6,386.3 L309.3,385.5 L305,384.4 L301.2,382.9 L297.7,381 L294.1,378.4 L290.2,375 L285.9,370.9 L281.1,366.2 L276.1,361.1 L271.1,356 L266.3,351.3 L262,347.2 L258.1,343.8 L254.5,341.2 L251,339.3 L247.2,337.8 L242.9,336.7 L238.6,335.9 L235,335.4 L233.2,335.2 L232.9,335.2Z" fill="#7B4B42" stroke="#7B4B42" stroke-width="0.7"/>
<path d="M232.9,335.2 L233.2,335.2 L235,335.5 L238.6,336.1 L242.9,337.2 L247.2,338.6 L251,340.6 L254.5,343.2 L258.1,346.6 L262,351 L266.3,356.4 L271.1,362.7 L276.1,369.4 L281.1,376.1 L285.9,382.4 L290.2,387.8 L294.1,392.2 L297.7,395.6 L301.2,398.2 L305,400.2 L309.3,401.6 L313.6,402.7 L317.2,403.3 L319,403.6 L319.3,403.6 L319.3,404.1 L319,404 L317.2,403.8 L313.6,403.1 L309.3,402.1 L305,400.6 L301.2,398.7 L297.7,396.1 L294.1,392.7 L290.2,388.2 L285.9,382.8 L281.1,376.6 L276.1,369.8 L271.1,363.1 L266.3,356.9 L262,351.5 L258.1,347 L254.5,343.6 L251,341 L247.2,339.1 L242.9,337.6 L238.6,336.6 L235,335.9 L233.2,335.7 L232.9,335.6Z" fill="#7B4B42" stroke="#7B4B42" stroke-width="0.7"/>
<path d="M232.9,335.6 L233.2,335.7 L235,336 L238.6,336.7 L242.9,337.8 L247.2,339.4 L251,341.6 L254.5,344.4 L258.1,348.3 L262,353.1 L266.3,359.1 L271.1,366 L276.1,373.5 L281.1,380.9 L285.9,387.8 L290.2,393.8 L294.1,398.7 L297.7,402.5 L301.2,405.3 L305,407.5 L309.3,409.1 L313.6,410.3 L317.2,411 L319,411.2 L319.3,411.3 L319.3,412 L319,412 L317.2,411.7 L313.6,411 L309.3,409.9 L305,408.2 L301.2,406.1 L297.7,403.2 L294.1,399.4 L290.2,394.6 L285.9,388.6 L281.1,381.7 L276.1,374.2 L271.1,366.8 L266.3,359.9 L262,353.9 L258.1,349 L254.5,345.2 L251,342.3 L247.2,340.2 L242.9,338.6 L238.6,337.4 L235,336.7 L233.2,336.4 L232.9,336.4Z" fill="#7B4B42" stroke="#7B4B42" stroke-width="0.7"/>
<path d="M232.9,336.4 L233.2,336.4 L235,336.7 L238.6,337.5 L242.9,338.7 L247.2,340.5 L251,342.8 L254.5,345.9 L258.1,350 L262,355.3 L266.3,361.7 L271.1,369.2 L276.1,377.2 L281.1,385.2 L285.9,392.7 L290.2,399.1 L294.1,404.4 L297.7,408.5 L301.2,411.6 L305,413.9 L309.3,415.7 L313.6,416.9 L317.2,417.7 L319,418 L319.3,418 L319.3,418.4 L319,418.4 L317.2,418.1 L313.6,417.3 L309.3,416.1 L305,414.3 L301.2,412 L297.7,408.9 L294.1,404.8 L290.2,399.5 L285.9,393.1 L281.1,385.6 L276.1,377.6 L271.1,369.6 L266.3,362.1 L262,355.7 L258.1,350.4 L254.5,346.3 L251,343.2 L247.2,340.9 L242.9,339.1 L238.6,337.9 L235,337.1 L233.2,336.8 L232.9,336.8Z" fill="#7B4B42" stroke="#7B4B42" stroke-width="0.7"/>
<path d="M232.9,363 L233.2,363 L235,363 L238.6,363 L242.9,362.9 L247.2,362.9 L251,362.8 L254.5,362.7 L258.1,362.5 L262,362.3 L266.3,362.1 L271.1,361.8 L276.1,361.5 L281.1,361.2 L285.9,360.9 L290.2,360.7 L294.1,360.5 L297.7,360.4 L301.2,360.3 L305,360.2 L309.3,360.1 L313.6,360.1 L317.2,360 L319,360 L319.3,360 L319.3,366.2 L319,366.2 L317.2,366.2 L313.6,366.3 L309.3,366.3 L305,366.4 L301.2,366.5 L297.7,366.6 L294.1,366.7 L290.2,366.9 L285.9,367.1 L281.1,367.4 L276.1,367.7 L271.1,368 L266.3,368.3 L262,368.5 L258.1,368.7 L254.5,368.8 L251,369 L247.2,369 L242.9,369.1 L238.6,369.2 L235,369.2 L233.2,369.2 L232.9,369.2Z" fill="#3B6EAE" stroke="#3B6EAE" stroke-width="0.7"/>
<path d="M232.9,369.2 L233.2,369.2 L235,369.2 L238.6,369.3 L242.9,369.5 L247.2,369.7 L251,370 L254.5,370.4 L258.1,371 L262,371.7 L266.3,372.5 L271.1,373.5 L276.1,374.5 L281.1,375.6 L285.9,376.6 L290.2,377.4 L294.1,378.1 L297.7,378.6 L301.2,379 L305,379.3 L309.3,379.6 L313.6,379.7 L317.2,379.8 L319,379.9 L319.3,379.9 L319.3,380.7 L319,380.7 L317.2,380.6 L313.6,380.5 L309.3,380.4 L305,380.1 L301.2,379.8 L297.7,379.4 L294.1,378.9 L290.2,378.2 L285.9,377.3 L281.1,376.4 L276.1,375.3 L271.1,374.3 L266.3,373.3 L262,372.5 L258.1,371.8 L254.5,371.2 L251,370.8 L247.2,370.5 L242.9,370.3 L238.6,370.1 L235,370 L233.2,370 L232.9,370Z" fill="#3B6EAE" stroke="#3B6EAE" stroke-width="0.7"/>
<path d="M232.9,370 L233.2,370 L235,370.1 L238.6,370.2 L242.9,370.5 L247.2,370.8 L251,371.3 L254.5,372 L258.1,372.8 L262,373.9 L266.3,375.3 L271.1,376.8 L276.1,378.5 L281.1,380.2 L285.9,381.7 L290.2,383.1 L294.1,384.2 L297.7,385 L301.2,385.6 L305,386.1 L309.3,386.5 L313.6,386.8 L317.2,386.9 L319,387 L319.3,387 L319.3,390.6 L319,390.5 L317.2,390.5 L313.6,390.3 L309.3,390.1 L305,389.7 L301.2,389.2 L297.7,388.6 L294.1,387.7 L290.2,386.6 L285.9,385.3 L281.1,383.7 L276.1,382.1 L271.1,380.4 L266.3,378.8 L262,377.5 L258.1,376.4 L254.5,375.5 L251,374.9 L247.2,374.4 L242.9,374 L238.6,373.8 L235,373.6 L233.2,373.6 L232.9,373.6Z" fill="#3B6EAE" stroke="#3B6EAE" stroke-width="0.7"/>
<path d="M232.9,373.6 L233.2,373.6 L235,373.7 L238.6,374 L242.9,374.4 L247.2,375.1 L251,376 L254.5,377.1 L258.1,378.6 L262,380.6 L266.3,383 L271.1,385.8 L276.1,388.8 L281.1,391.8 L285.9,394.6 L290.2,397 L294.1,399 L297.7,400.5 L301.2,401.7 L305,402.5 L309.3,403.2 L313.6,403.6 L317.2,403.9 L319,404 L319.3,404.1 L319.3,405.6 L319,405.6 L317.2,405.5 L313.6,405.2 L309.3,404.8 L305,404.1 L301.2,403.3 L297.7,402.1 L294.1,400.6 L290.2,398.6 L285.9,396.2 L281.1,393.4 L276.1,390.4 L271.1,387.4 L266.3,384.6 L262,382.2 L258.1,380.2 L254.5,378.7 L251,377.5 L247.2,376.7 L242.9,376 L238.6,375.6 L235,375.3 L233.2,375.2 L232.9,375.2Z" fill="#3B6EAE" stroke="#3B6EAE" stroke-width="0.7"/>
<path d="M232.9,375.2 L233.2,375.2 L235,375.3 L238.6,375.6 L242.9,376.1 L247.2,376.8 L251,377.8 L254.5,379 L258.1,380.7 L262,382.8 L266.3,385.4 L271.1,388.5 L276.1,391.7 L281.1,395 L285.9,398 L290.2,400.7 L294.1,402.8 L297.7,404.5 L301.2,405.7 L305,406.7 L309.3,407.4 L313.6,407.9 L317.2,408.2 L319,408.3 L319.3,408.3 L319.3,409.1 L319,409 L317.2,408.9 L313.6,408.6 L309.3,408.1 L305,407.4 L301.2,406.4 L297.7,405.2 L294.1,403.5 L290.2,401.4 L285.9,398.8 L281.1,395.7 L276.1,392.5 L271.1,389.2 L266.3,386.2 L262,383.5 L258.1,381.4 L254.5,379.7 L251,378.5 L247.2,377.5 L242.9,376.8 L238.6,376.3 L235,376 L233.2,375.9 L232.9,375.9Z" fill="#3B6EAE" stroke="#3B6EAE" stroke-width="0.7"/>
<path d="M232.9,375.9 L233.2,375.9 L235,376 L238.6,376.4 L242.9,376.9 L247.2,377.7 L251,378.7 L254.5,380.1 L258.1,381.9 L262,384.2 L266.3,387.1 L271.1,390.4 L276.1,394 L281.1,397.5 L285.9,400.8 L290.2,403.7 L294.1,406 L297.7,407.8 L301.2,409.2 L305,410.2 L309.3,411 L313.6,411.6 L317.2,411.9 L319,412 L319.3,412 L319.3,413.7 L319,413.7 L317.2,413.5 L313.6,413.2 L309.3,412.7 L305,411.9 L301.2,410.9 L297.7,409.5 L294.1,407.7 L290.2,405.3 L285.9,402.5 L281.1,399.2 L276.1,395.6 L271.1,392.1 L266.3,388.8 L262,385.9 L258.1,383.6 L254.5,381.7 L251,380.4 L247.2,379.4 L242.9,378.6 L238.6,378 L235,377.7 L233.2,377.6 L232.9,377.5Z" fill="#3B6EAE" stroke="#3B6EAE" stroke-width="0.7"/>
<path d="M232.9,377.5 L233.2,377.6 L235,377.7 L238.6,378.1 L242.9,378.7 L247.2,379.6 L251,380.8 L254.5,382.3 L258.1,384.4 L262,387 L266.3,390.2 L271.1,393.9 L276.1,398 L281.1,402 L285.9,405.7 L290.2,409 L294.1,411.6 L297.7,413.7 L301.2,415.2 L305,416.4 L309.3,417.2 L313.6,417.9 L317.2,418.2 L319,418.4 L319.3,418.4 L319.3,424.6 L319,424.5 L317.2,424.4 L313.6,424 L309.3,423.4 L305,422.5 L301.2,421.4 L297.7,419.8 L294.1,417.8 L290.2,415.1 L285.9,411.9 L281.1,408.2 L276.1,404.1 L271.1,400.1 L266.3,396.4 L262,393.1 L258.1,390.5 L254.5,388.5 L251,386.9 L247.2,385.8 L242.9,384.9 L238.6,384.2 L235,383.9 L233.2,383.7 L232.9,383.7Z" fill="#3B6EAE" stroke="#3B6EAE" stroke-width="0.7"/>
<path d="M232.9,386.2 L233.2,386.2 L235,386.1 L238.6,385.9 L242.9,385.6 L247.2,385.2 L251,384.6 L254.5,383.9 L258.1,382.9 L262,381.6 L266.3,380 L271.1,378.2 L276.1,376.2 L281.1,374.2 L285.9,372.4 L290.2,370.8 L294.1,369.5 L297.7,368.5 L301.2,367.8 L305,367.2 L309.3,366.8 L313.6,366.5 L317.2,366.3 L319,366.2 L319.3,366.2 L319.3,368.9 L319,369 L317.2,369 L313.6,369.2 L309.3,369.5 L305,369.9 L301.2,370.5 L297.7,371.3 L294.1,372.3 L290.2,373.6 L285.9,375.1 L281.1,377 L276.1,378.9 L271.1,380.9 L266.3,382.7 L262,384.3 L258.1,385.6 L254.5,386.6 L251,387.4 L247.2,387.9 L242.9,388.4 L238.6,388.7 L235,388.8 L233.2,388.9 L232.9,388.9Z" fill="#7D7D7D" stroke="#7D7D7D" stroke-width="0.7"/>
<path d="M232.9,388.9 L233.2,388.9 L235,388.9 L238.6,389 L242.9,389 L247.2,389 L251,389.1 L254.5,389.1 L258.1,389.2 L262,389.3 L266.3,389.4 L271.1,389.6 L276.1,389.7 L281.1,389.9 L285.9,390.1 L290.2,390.2 L294.1,390.3 L297.7,390.4 L301.2,390.4 L305,390.5 L309.3,390.5 L313.6,390.5 L317.2,390.5 L319,390.6 L319.3,390.6 L319.3,391.5 L319,391.5 L317.2,391.5 L313.6,391.5 L309.3,391.4 L305,391.4 L301.2,391.3 L297.7,391.3 L294.1,391.2 L290.2,391.1 L285.9,391 L281.1,390.8 L276.1,390.7 L271.1,390.5 L266.3,390.4 L262,390.2 L258.1,390.1 L254.5,390 L251,390 L247.2,389.9 L242.9,389.9 L238.6,389.9 L235,389.9 L233.2,389.8 L232.9,389.8Z" fill="#7D7D7D" stroke="#7D7D7D" stroke-width="0.7"/>
<path d="M232.9,389.8 L233.2,389.9 L235,389.9 L238.6,390.1 L242.9,390.3 L247.2,390.6 L251,391.1 L254.5,391.7 L258.1,392.5 L262,393.5 L266.3,394.7 L271.1,396.2 L276.1,397.7 L281.1,399.3 L285.9,400.7 L290.2,402 L294.1,403 L297.7,403.8 L301.2,404.4 L305,404.9 L309.3,405.2 L313.6,405.4 L317.2,405.6 L319,405.6 L319.3,405.6 L319.3,406.1 L319,406.1 L317.2,406 L313.6,405.9 L309.3,405.6 L305,405.3 L301.2,404.8 L297.7,404.2 L294.1,403.4 L290.2,402.4 L285.9,401.2 L281.1,399.7 L276.1,398.2 L271.1,396.6 L266.3,395.2 L262,393.9 L258.1,392.9 L254.5,392.1 L251,391.5 L247.2,391.1 L242.9,390.7 L238.6,390.5 L235,390.3 L233.2,390.3 L232.9,390.3Z" fill="#7D7D7D" stroke="#7D7D7D" stroke-width="0.7"/>
<path d="M232.9,390.3 L233.2,390.3 L235,390.4 L238.6,390.6 L242.9,390.9 L247.2,391.4 L251,392.1 L254.5,393 L258.1,394.2 L262,395.7 L266.3,397.5 L271.1,399.7 L276.1,402 L281.1,404.3 L285.9,406.4 L290.2,408.3 L294.1,409.8 L297.7,411 L301.2,411.9 L305,412.5 L309.3,413 L313.6,413.4 L317.2,413.6 L319,413.7 L319.3,413.7 L319.3,414 L319,414 L317.2,413.9 L313.6,413.7 L309.3,413.4 L305,412.9 L301.2,412.2 L297.7,411.3 L294.1,410.1 L290.2,408.6 L285.9,406.8 L281.1,404.6 L276.1,402.3 L271.1,400 L266.3,397.9 L262,396 L258.1,394.5 L254.5,393.3 L251,392.4 L247.2,391.8 L242.9,391.3 L238.6,390.9 L235,390.7 L233.2,390.6 L232.9,390.6Z" fill="#7D7D7D" stroke="#7D7D7D" stroke-width="0.7"/>
<path d="M232.9,402.1 L233.2,402.1 L235,402 L238.6,401.7 L242.9,401.1 L247.2,400.4 L251,399.5 L254.5,398.2 L258.1,396.6 L262,394.4 L266.3,391.8 L271.1,388.8 L276.1,385.5 L281.1,382.3 L285.9,379.2 L290.2,376.6 L294.1,374.5 L297.7,372.8 L301.2,371.6 L305,370.6 L309.3,369.9 L313.6,369.4 L317.2,369.1 L319,369 L319.3,368.9 L319.3,374.9 L319,374.9 L317.2,375.1 L313.6,375.4 L309.3,375.9 L305,376.6 L301.2,377.5 L297.7,378.8 L294.1,380.4 L290.2,382.6 L285.9,385.2 L281.1,388.2 L276.1,391.5 L271.1,394.8 L266.3,397.8 L262,400.4 L258.1,402.5 L254.5,404.2 L251,405.5 L247.2,406.4 L242.9,407.1 L238.6,407.6 L235,407.9 L233.2,408.1 L232.9,408.1Z" fill="#58982C" stroke="#58982C" stroke-width="0.7"/>
<path d="M232.9,408.1 L233.2,408.1 L235,408 L238.6,407.7 L242.9,407.3 L247.2,406.7 L251,405.9 L254.5,404.9 L258.1,403.5 L262,401.7 L266.3,399.6 L271.1,397.1 L276.1,394.4 L281.1,391.7 L285.9,389.2 L290.2,387 L294.1,385.2 L297.7,383.8 L301.2,382.8 L305,382 L309.3,381.4 L313.6,381 L317.2,380.8 L319,380.7 L319.3,380.7 L319.3,381.2 L319,381.2 L317.2,381.3 L313.6,381.6 L309.3,382 L305,382.6 L301.2,383.4 L297.7,384.4 L294.1,385.8 L290.2,387.6 L285.9,389.7 L281.1,392.2 L276.1,394.9 L271.1,397.6 L266.3,400.1 L262,402.3 L258.1,404.1 L254.5,405.4 L251,406.5 L247.2,407.3 L242.9,407.9 L238.6,408.3 L235,408.5 L233.2,408.6 L232.9,408.6Z" fill="#58982C" stroke="#58982C" stroke-width="0.7"/>
<path d="M232.9,408.6 L233.2,408.6 L235,408.6 L238.6,408.4 L242.9,408.1 L247.2,407.8 L251,407.3 L254.5,406.6 L258.1,405.8 L262,404.7 L266.3,403.3 L271.1,401.7 L276.1,400.1 L281.1,398.4 L285.9,396.8 L290.2,395.4 L294.1,394.3 L297.7,393.5 L301.2,392.8 L305,392.3 L309.3,392 L313.6,391.7 L317.2,391.5 L319,391.5 L319.3,391.5 L319.3,392.5 L319,392.6 L317.2,392.6 L313.6,392.8 L309.3,393 L305,393.4 L301.2,393.9 L297.7,394.5 L294.1,395.4 L290.2,396.5 L285.9,397.9 L281.1,399.4 L276.1,401.1 L271.1,402.8 L266.3,404.4 L262,405.7 L258.1,406.9 L254.5,407.7 L251,408.4 L247.2,408.9 L242.9,409.2 L238.6,409.5 L235,409.6 L233.2,409.7 L232.9,409.7Z" fill="#58982C" stroke="#58982C" stroke-width="0.7"/>
<path d="M232.9,409.7 L233.2,409.7 L235,409.7 L238.6,409.7 L242.9,409.6 L247.2,409.5 L251,409.4 L254.5,409.3 L258.1,409.1 L262,408.9 L266.3,408.6 L271.1,408.2 L276.1,407.9 L281.1,407.5 L285.9,407.2 L290.2,406.9 L294.1,406.7 L297.7,406.5 L301.2,406.3 L305,406.2 L309.3,406.2 L313.6,406.1 L317.2,406.1 L319,406.1 L319.3,406.1 L319.3,406.9 L319,406.9 L317.2,406.9 L313.6,407 L309.3,407 L305,407.1 L301.2,407.2 L297.7,407.4 L294.1,407.5 L290.2,407.8 L285.9,408.1 L281.1,408.4 L276.1,408.8 L271.1,409.1 L266.3,409.4 L262,409.7 L258.1,410 L254.5,410.2 L251,410.3 L247.2,410.4 L242.9,410.5 L238.6,410.5 L235,410.6 L233.2,410.6 L232.9,410.6Z" fill="#58982C" stroke="#58982C" stroke-width="0.7"/>
<path d="M232.9,410.6 L233.2,410.6 L235,410.6 L238.6,410.6 L242.9,410.5 L247.2,410.5 L251,410.5 L254.5,410.4 L258.1,410.3 L262,410.2 L266.3,410.1 L271.1,410 L276.1,409.8 L281.1,409.7 L285.9,409.5 L290.2,409.4 L294.1,409.3 L297.7,409.2 L301.2,409.2 L305,409.1 L309.3,409.1 L313.6,409.1 L317.2,409.1 L319,409.1 L319.3,409.1 L319.3,409.5 L319,409.5 L317.2,409.5 L313.6,409.5 L309.3,409.5 L305,409.5 L301.2,409.6 L297.7,409.7 L294.1,409.7 L290.2,409.8 L285.9,409.9 L281.1,410.1 L276.1,410.2 L271.1,410.4 L266.3,410.5 L262,410.6 L258.1,410.7 L254.5,410.8 L251,410.9 L247.2,410.9 L242.9,411 L238.6,411 L235,411 L233.2,411 L232.9,411Z" fill="#58982C" stroke="#58982C" stroke-width="0.7"/>
<path d="M232.9,411 L233.2,411 L235,411 L238.6,411 L242.9,411.1 L247.2,411.1 L251,411.2 L254.5,411.4 L258.1,411.5 L262,411.7 L266.3,411.9 L271.1,412.2 L276.1,412.5 L281.1,412.8 L285.9,413.1 L290.2,413.3 L294.1,413.5 L297.7,413.7 L301.2,413.8 L305,413.9 L309.3,414 L313.6,414 L317.2,414 L319,414 L319.3,414 L319.3,415.8 L319,415.8 L317.2,415.8 L313.6,415.8 L309.3,415.8 L305,415.7 L301.2,415.6 L297.7,415.5 L294.1,415.3 L290.2,415.1 L285.9,414.9 L281.1,414.6 L276.1,414.3 L271.1,414 L266.3,413.7 L262,413.5 L258.1,413.3 L254.5,413.2 L251,413 L247.2,413 L242.9,412.9 L238.6,412.8 L235,412.8 L233.2,412.8 L232.9,412.8Z" fill="#58982C" stroke="#58982C" stroke-width="0.7"/>
<path d="M232.9,417.8 L233.2,417.8 L235,417.6 L238.6,417.2 L242.9,416.6 L247.2,415.6 L251,414.4 L254.5,412.8 L258.1,410.7 L262,407.9 L266.3,404.5 L271.1,400.6 L276.1,396.4 L281.1,392.1 L285.9,388.2 L290.2,384.8 L294.1,382.1 L297.7,379.9 L301.2,378.3 L305,377.1 L309.3,376.1 L313.6,375.5 L317.2,375.1 L319,374.9 L319.3,374.9 L319.3,377.6 L319,377.6 L317.2,377.8 L313.6,378.2 L309.3,378.8 L305,379.8 L301.2,381 L297.7,382.6 L294.1,384.7 L290.2,387.5 L285.9,390.9 L281.1,394.8 L276.1,399 L271.1,403.3 L266.3,407.2 L262,410.6 L258.1,413.3 L254.5,415.5 L251,417.1 L247.2,418.3 L242.9,419.3 L238.6,419.9 L235,420.3 L233.2,420.5 L232.9,420.5Z" fill="#5EB5CC" stroke="#5EB5CC" stroke-width="0.7"/>
<path d="M232.9,420.5 L233.2,420.5 L235,420.3 L238.6,420 L242.9,419.4 L247.2,418.5 L251,417.4 L254.5,415.9 L258.1,413.9 L262,411.4 L266.3,408.3 L271.1,404.7 L276.1,400.9 L281.1,397 L285.9,393.4 L290.2,390.3 L294.1,387.8 L297.7,385.8 L301.2,384.3 L305,383.2 L309.3,382.4 L313.6,381.7 L317.2,381.4 L319,381.2 L319.3,381.2 L319.3,381.8 L319,381.8 L317.2,382 L313.6,382.3 L309.3,382.9 L305,383.8 L301.2,384.9 L297.7,386.4 L294.1,388.3 L290.2,390.9 L285.9,394 L281.1,397.6 L276.1,401.4 L271.1,405.3 L266.3,408.9 L262,412 L258.1,414.5 L254.5,416.5 L251,418 L247.2,419.1 L242.9,419.9 L238.6,420.5 L235,420.9 L233.2,421 L232.9,421.1Z" fill="#5EB5CC" stroke="#5EB5CC" stroke-width="0.7"/>
<path d="M232.9,421.1 L233.2,421 L235,420.9 L238.6,420.7 L242.9,420.2 L247.2,419.6 L251,418.8 L254.5,417.7 L258.1,416.3 L262,414.5 L266.3,412.2 L271.1,409.6 L276.1,406.8 L281.1,404 L285.9,401.4 L290.2,399.1 L294.1,397.3 L297.7,395.9 L301.2,394.8 L305,394 L309.3,393.4 L313.6,392.9 L317.2,392.7 L319,392.6 L319.3,392.5 L319.3,393.9 L319,393.9 L317.2,394 L313.6,394.3 L309.3,394.7 L305,395.3 L301.2,396.1 L297.7,397.2 L294.1,398.7 L290.2,400.5 L285.9,402.7 L281.1,405.3 L276.1,408.2 L271.1,411 L266.3,413.6 L262,415.8 L258.1,417.7 L254.5,419.1 L251,420.2 L247.2,421 L242.9,421.6 L238.6,422 L235,422.3 L233.2,422.4 L232.9,422.4Z" fill="#5EB5CC" stroke="#5EB5CC" stroke-width="0.7"/>
<path d="M232.9,422.4 L233.2,422.4 L235,422.3 L238.6,422.2 L242.9,422 L247.2,421.6 L251,421.2 L254.5,420.6 L258.1,419.8 L262,418.8 L266.3,417.6 L271.1,416.2 L276.1,414.7 L281.1,413.1 L285.9,411.7 L290.2,410.5 L294.1,409.5 L297.7,408.7 L301.2,408.1 L305,407.7 L309.3,407.4 L313.6,407.1 L317.2,407 L319,406.9 L319.3,406.9 L319.3,407.8 L319,407.8 L317.2,407.9 L313.6,408 L309.3,408.2 L305,408.6 L301.2,409 L297.7,409.6 L294.1,410.4 L290.2,411.4 L285.9,412.6 L281.1,414 L276.1,415.5 L271.1,417.1 L266.3,418.5 L262,419.7 L258.1,420.7 L254.5,421.5 L251,422.1 L247.2,422.5 L242.9,422.8 L238.6,423.1 L235,423.2 L233.2,423.3 L232.9,423.3Z" fill="#5EB5CC" stroke="#5EB5CC" stroke-width="0.7"/>
<path d="M232.9,423.3 L233.2,423.3 L235,423.2 L238.6,423.1 L242.9,422.9 L247.2,422.6 L251,422.2 L254.5,421.7 L258.1,421 L262,420.1 L266.3,419 L271.1,417.7 L276.1,416.4 L281.1,415 L285.9,413.8 L290.2,412.7 L294.1,411.8 L297.7,411.1 L301.2,410.6 L305,410.2 L309.3,409.9 L313.6,409.7 L317.2,409.5 L319,409.5 L319.3,409.5 L319.3,410 L319,410 L317.2,410.1 L313.6,410.2 L309.3,410.4 L305,410.7 L301.2,411.1 L297.7,411.6 L294.1,412.3 L290.2,413.2 L285.9,414.3 L281.1,415.5 L276.1,416.9 L271.1,418.3 L266.3,419.5 L262,420.6 L258.1,421.5 L254.5,422.2 L251,422.7 L247.2,423.1 L242.9,423.4 L238.6,423.6 L235,423.8 L233.2,423.8 L232.9,423.8Z" fill="#5EB5CC" stroke="#5EB5CC" stroke-width="0.7"/>
<path d="M232.9,423.8 L233.2,423.8 L235,423.8 L238.6,423.7 L242.9,423.6 L247.2,423.4 L251,423.2 L254.5,422.9 L258.1,422.5 L262,422 L266.3,421.3 L271.1,420.6 L276.1,419.8 L281.1,419 L285.9,418.3 L290.2,417.7 L294.1,417.2 L297.7,416.8 L301.2,416.5 L305,416.2 L309.3,416.1 L313.6,415.9 L317.2,415.9 L319,415.8 L319.3,415.8 L319.3,416.6 L319,416.6 L317.2,416.6 L313.6,416.7 L309.3,416.8 L305,417 L301.2,417.2 L297.7,417.5 L294.1,417.9 L290.2,418.4 L285.9,419.1 L281.1,419.8 L276.1,420.6 L271.1,421.4 L266.3,422.1 L262,422.7 L258.1,423.2 L254.5,423.6 L251,423.9 L247.2,424.2 L242.9,424.3 L238.6,424.5 L235,424.5 L233.2,424.6 L232.9,424.6Z" fill="#5EB5CC" stroke="#5EB5CC" stroke-width="0.7"/>
<path d="M232.9,424.6 L233.2,424.6 L235,424.6 L238.6,424.6 L242.9,424.6 L247.2,424.6 L251,424.6 L254.5,424.6 L258.1,424.6 L262,424.6 L266.3,424.6 L271.1,424.6 L276.1,424.6 L281.1,424.6 L285.9,424.6 L290.2,424.6 L294.1,424.6 L297.7,424.6 L301.2,424.6 L305,424.6 L309.3,424.6 L313.6,424.6 L317.2,424.6 L319,424.6 L319.3,424.6 L319.3,427.7 L319,427.7 L317.2,427.7 L313.6,427.7 L309.3,427.7 L305,427.7 L301.2,427.7 L297.7,427.7 L294.1,427.7 L290.2,427.7 L285.9,427.7 L281.1,427.7 L276.1,427.7 L271.1,427.7 L266.3,427.7 L262,427.7 L258.1,427.7 L254.5,427.7 L251,427.7 L247.2,427.7 L242.9,427.7 L238.6,427.7 L235,427.7 L233.2,427.7 L232.9,427.7Z" fill="#5EB5CC" stroke="#5EB5CC" stroke-width="0.7"/>
<path d="M363.3,368.2 L363.6,368.2 L365.4,368.4 L369,368.6 L373.4,369.1 L377.6,369.7 L381.4,370.6 L385,371.7 L388.6,373.3 L392.5,375.2 L396.8,377.6 L401.6,380.3 L406.7,383.3 L411.7,386.3 L416.5,389 L420.8,391.4 L424.7,393.4 L428.3,394.9 L431.9,396 L435.7,396.9 L439.9,397.5 L444.3,398 L447.9,398.3 L449.7,398.4 L450,398.4 L450,399.9 L449.7,399.8 L447.9,399.7 L444.3,399.5 L439.9,399 L435.7,398.3 L431.9,397.5 L428.3,396.3 L424.7,394.8 L420.8,392.9 L416.5,390.5 L411.7,387.7 L406.7,384.8 L401.6,381.8 L396.8,379 L392.5,376.7 L388.6,374.7 L385,373.2 L381.4,372.1 L377.6,371.2 L373.4,370.6 L369,370.1 L365.4,369.8 L363.6,369.7 L363.3,369.7Z" fill="#B22222" stroke="#B22222" stroke-width="0.7"/>
<path d="M363.3,369.7 L363.6,369.7 L365.4,369.8 L369,370.2 L373.4,370.7 L377.6,371.5 L381.4,372.5 L385,373.9 L388.6,375.7 L392.5,378 L396.8,380.9 L401.6,384.2 L406.7,387.7 L411.7,391.3 L416.5,394.6 L420.8,397.5 L424.7,399.8 L428.3,401.6 L431.9,403 L435.7,404 L439.9,404.8 L444.3,405.3 L447.9,405.7 L449.7,405.8 L450,405.8 L450,406.4 L449.7,406.4 L447.9,406.3 L444.3,405.9 L439.9,405.4 L435.7,404.6 L431.9,403.6 L428.3,402.2 L424.7,400.4 L420.8,398.1 L416.5,395.2 L411.7,391.9 L406.7,388.4 L401.6,384.8 L396.8,381.5 L392.5,378.7 L388.6,376.3 L385,374.5 L381.4,373.2 L377.6,372.1 L373.4,371.4 L369,370.8 L365.4,370.5 L363.6,370.3 L363.3,370.3Z" fill="#B22222" stroke="#B22222" stroke-width="0.7"/>
<path d="M363.3,370.3 L363.6,370.3 L365.4,370.5 L369,370.8 L373.4,371.4 L377.6,372.2 L381.4,373.2 L385,374.6 L388.6,376.5 L392.5,378.8 L396.8,381.8 L401.6,385.1 L406.7,388.8 L411.7,392.4 L416.5,395.8 L420.8,398.7 L424.7,401.1 L428.3,402.9 L431.9,404.3 L435.7,405.3 L439.9,406.1 L444.3,406.7 L447.9,407 L449.7,407.2 L450,407.2 L450,409.9 L449.7,409.9 L447.9,409.8 L444.3,409.4 L439.9,408.9 L435.7,408.1 L431.9,407 L428.3,405.6 L424.7,403.8 L420.8,401.4 L416.5,398.5 L411.7,395.1 L406.7,391.5 L401.6,387.9 L396.8,384.5 L392.5,381.6 L388.6,379.2 L385,377.3 L381.4,376 L377.6,374.9 L373.4,374.1 L369,373.5 L365.4,373.2 L363.6,373.1 L363.3,373.1Z" fill="#B22222" stroke="#B22222" stroke-width="0.7"/>
<path d="M363.3,373.1 L363.6,373.1 L365.4,373.2 L369,373.6 L373.4,374.3 L377.6,375.2 L381.4,376.4 L385,378 L388.6,380.2 L392.5,382.9 L396.8,386.3 L401.6,390.2 L406.7,394.4 L411.7,398.6 L416.5,402.5 L420.8,405.8 L424.7,408.6 L428.3,410.7 L431.9,412.3 L435.7,413.6 L439.9,414.5 L444.3,415.1 L447.9,415.5 L449.7,415.7 L450,415.7 L450,417.3 L449.7,417.3 L447.9,417.1 L444.3,416.7 L439.9,416.1 L435.7,415.1 L431.9,413.9 L428.3,412.3 L424.7,410.2 L420.8,407.4 L416.5,404.1 L411.7,400.2 L406.7,396 L401.6,391.8 L396.8,387.9 L392.5,384.5 L388.6,381.7 L385,379.6 L381.4,378 L377.6,376.8 L373.4,375.9 L369,375.2 L365.4,374.8 L363.6,374.7 L363.3,374.6Z" fill="#B22222" stroke="#B22222" stroke-width="0.7"/>
<path d="M363.3,374.6 L363.6,374.7 L365.4,374.8 L369,375.2 L373.4,375.9 L377.6,376.9 L381.4,378.1 L385,379.8 L388.6,382.1 L392.5,384.9 L396.8,388.5 L401.6,392.5 L406.7,396.9 L411.7,401.3 L416.5,405.4 L420.8,408.9 L424.7,411.8 L428.3,414 L431.9,415.7 L435.7,417 L439.9,417.9 L444.3,418.6 L447.9,419 L449.7,419.2 L450,419.2 L450,419.7 L449.7,419.7 L447.9,419.5 L444.3,419.1 L439.9,418.5 L435.7,417.5 L431.9,416.2 L428.3,414.5 L424.7,412.3 L420.8,409.4 L416.5,405.9 L411.7,401.8 L406.7,397.5 L401.6,393.1 L396.8,389 L392.5,385.5 L388.6,382.6 L385,380.4 L381.4,378.7 L377.6,377.4 L373.4,376.4 L369,375.8 L365.4,375.4 L363.6,375.2 L363.3,375.2Z" fill="#B22222" stroke="#B22222" stroke-width="0.7"/>
<path d="M363.3,375.2 L363.6,375.2 L365.4,375.4 L369,375.8 L373.4,376.5 L377.6,377.5 L381.4,378.7 L385,380.5 L388.6,382.7 L392.5,385.7 L396.8,389.3 L401.6,393.4 L406.7,397.9 L411.7,402.4 L416.5,406.5 L420.8,410.1 L424.7,413 L428.3,415.3 L431.9,417 L435.7,418.3 L439.9,419.3 L444.3,420 L447.9,420.4 L449.7,420.6 L450,420.6 L450,423 L449.7,423 L447.9,422.8 L444.3,422.4 L439.9,421.7 L435.7,420.7 L431.9,419.5 L428.3,417.7 L424.7,415.5 L420.8,412.5 L416.5,408.9 L411.7,404.8 L406.7,400.3 L401.6,395.8 L396.8,391.7 L392.5,388.1 L388.6,385.2 L385,382.9 L381.4,381.2 L377.6,379.9 L373.4,378.9 L369,378.2 L365.4,377.8 L363.6,377.6 L363.3,377.6Z" fill="#B22222" stroke="#B22222" stroke-width="0.7"/>
<path d="M363.3,380 L363.6,380.1 L365.4,380.1 L369,380.3 L373.4,380.6 L377.6,381 L381.4,381.6 L385,382.4 L388.6,383.3 L392.5,384.6 L396.8,386.2 L401.6,388 L406.7,390 L411.7,391.9 L416.5,393.7 L420.8,395.3 L424.7,396.6 L428.3,397.6 L431.9,398.3 L435.7,398.9 L439.9,399.3 L444.3,399.6 L447.9,399.8 L449.7,399.8 L450,399.9 L450,400.9 L449.7,400.9 L447.9,400.8 L444.3,400.6 L439.9,400.3 L435.7,399.9 L431.9,399.3 L428.3,398.6 L424.7,397.6 L420.8,396.3 L416.5,394.7 L411.7,392.9 L406.7,391 L401.6,389 L396.8,387.2 L392.5,385.6 L388.6,384.4 L385,383.4 L381.4,382.6 L377.6,382 L373.4,381.6 L369,381.3 L365.4,381.1 L363.6,381.1 L363.3,381.1Z" fill="#F5D54E" stroke="#F5D54E" stroke-width="0.7"/>
<path d="M363.3,381.1 L363.6,381.1 L365.4,381.2 L369,381.4 L373.4,381.9 L377.6,382.5 L381.4,383.3 L385,384.4 L388.6,385.9 L392.5,387.7 L396.8,390 L401.6,392.6 L406.7,395.5 L411.7,398.3 L416.5,401 L420.8,403.3 L424.7,405.1 L428.3,406.6 L431.9,407.7 L435.7,408.5 L439.9,409.1 L444.3,409.6 L447.9,409.8 L449.7,409.9 L450,409.9 L450,410.7 L449.7,410.7 L447.9,410.6 L444.3,410.3 L439.9,409.9 L435.7,409.2 L431.9,408.4 L428.3,407.3 L424.7,405.9 L420.8,404 L416.5,401.7 L411.7,399.1 L406.7,396.2 L401.6,393.4 L396.8,390.8 L392.5,388.5 L388.6,386.6 L385,385.2 L381.4,384.1 L377.6,383.3 L373.4,382.6 L369,382.2 L365.4,381.9 L363.6,381.8 L363.3,381.8Z" fill="#F5D54E" stroke="#F5D54E" stroke-width="0.7"/>
<path d="M363.3,392 L363.6,392.1 L365.4,392.1 L369,392.3 L373.4,392.6 L377.6,393 L381.4,393.5 L385,394.2 L388.6,395.2 L392.5,396.4 L396.8,397.8 L401.6,399.5 L406.7,401.4 L411.7,403.2 L416.5,404.9 L420.8,406.4 L424.7,407.6 L428.3,408.5 L431.9,409.2 L435.7,409.8 L439.9,410.2 L444.3,410.4 L447.9,410.6 L449.7,410.7 L450,410.7 L450,411.7 L449.7,411.7 L447.9,411.6 L444.3,411.5 L439.9,411.2 L435.7,410.8 L431.9,410.2 L428.3,409.5 L424.7,408.6 L420.8,407.4 L416.5,405.9 L411.7,404.2 L406.7,402.4 L401.6,400.5 L396.8,398.8 L392.5,397.4 L388.6,396.2 L385,395.2 L381.4,394.5 L377.6,394 L373.4,393.6 L369,393.3 L365.4,393.1 L363.6,393.1 L363.3,393.1Z" fill="#7B4B42" stroke="#7B4B42" stroke-width="0.7"/>
<path d="M363.3,393.1 L363.6,393.1 L365.4,393.2 L369,393.4 L373.4,393.8 L377.6,394.3 L381.4,395 L385,395.9 L388.6,397.1 L392.5,398.7 L396.8,400.6 L401.6,402.8 L406.7,405.2 L411.7,407.6 L416.5,409.8 L420.8,411.7 L424.7,413.2 L428.3,414.5 L431.9,415.4 L435.7,416.1 L439.9,416.6 L444.3,417 L447.9,417.2 L449.7,417.3 L450,417.3 L450,417.8 L449.7,417.7 L447.9,417.7 L444.3,417.4 L439.9,417.1 L435.7,416.5 L431.9,415.8 L428.3,414.9 L424.7,413.7 L420.8,412.2 L416.5,410.2 L411.7,408 L406.7,405.6 L401.6,403.3 L396.8,401 L392.5,399.1 L388.6,397.6 L385,396.3 L381.4,395.4 L377.6,394.7 L373.4,394.2 L369,393.8 L365.4,393.6 L363.6,393.5 L363.3,393.5Z" fill="#7B4B42" stroke="#7B4B42" stroke-width="0.7"/>
<path d="M363.3,393.5 L363.6,393.5 L365.4,393.6 L369,393.9 L373.4,394.4 L377.6,395 L381.4,395.8 L385,397 L388.6,398.4 L392.5,400.3 L396.8,402.7 L401.6,405.4 L406.7,408.3 L411.7,411.2 L416.5,413.9 L420.8,416.2 L424.7,418.1 L428.3,419.6 L431.9,420.7 L435.7,421.5 L439.9,422.2 L444.3,422.6 L447.9,422.9 L449.7,423 L450,423 L450,423.4 L449.7,423.4 L447.9,423.3 L444.3,423 L439.9,422.6 L435.7,421.9 L431.9,421.1 L428.3,420 L424.7,418.5 L420.8,416.6 L416.5,414.3 L411.7,411.6 L406.7,408.7 L401.6,405.7 L396.8,403 L392.5,400.7 L388.6,398.8 L385,397.3 L381.4,396.2 L377.6,395.4 L373.4,394.7 L369,394.3 L365.4,394 L363.6,393.9 L363.3,393.9Z" fill="#7B4B42" stroke="#7B4B42" stroke-width="0.7"/>
<path d="M363.3,401.8 L363.6,401.8 L365.4,401.8 L369,401.8 L373.4,401.8 L377.6,401.8 L381.4,401.8 L385,401.7 L388.6,401.7 L392.5,401.6 L396.8,401.5 L401.6,401.4 L406.7,401.4 L411.7,401.3 L416.5,401.2 L420.8,401.1 L424.7,401 L428.3,401 L431.9,400.9 L435.7,400.9 L439.9,400.9 L444.3,400.9 L447.9,400.9 L449.7,400.9 L450,400.9 L450,402.7 L449.7,402.7 L447.9,402.8 L444.3,402.8 L439.9,402.8 L435.7,402.8 L431.9,402.8 L428.3,402.9 L424.7,402.9 L420.8,403 L416.5,403 L411.7,403.1 L406.7,403.2 L401.6,403.3 L396.8,403.4 L392.5,403.5 L388.6,403.6 L385,403.6 L381.4,403.6 L377.6,403.7 L373.4,403.7 L369,403.7 L365.4,403.7 L363.6,403.7 L363.3,403.7Z" fill="#3B6EAE" stroke="#3B6EAE" stroke-width="0.7"/>
<path d="M363.3,403.7 L363.6,403.7 L365.4,403.7 L369,403.8 L373.4,403.8 L377.6,403.9 L381.4,403.9 L385,404 L388.6,404.2 L392.5,404.3 L396.8,404.6 L401.6,404.8 L406.7,405.1 L411.7,405.3 L416.5,405.6 L420.8,405.8 L424.7,406 L428.3,406.1 L431.9,406.2 L435.7,406.3 L439.9,406.3 L444.3,406.4 L447.9,406.4 L449.7,406.4 L450,406.4 L450,406.8 L449.7,406.7 L447.9,406.7 L444.3,406.7 L439.9,406.7 L435.7,406.6 L431.9,406.5 L428.3,406.4 L424.7,406.3 L420.8,406.1 L416.5,405.9 L411.7,405.7 L406.7,405.4 L401.6,405.1 L396.8,404.9 L392.5,404.7 L388.6,404.5 L385,404.4 L381.4,404.3 L377.6,404.2 L373.4,404.1 L369,404.1 L365.4,404.1 L363.6,404.1 L363.3,404.1Z" fill="#3B6EAE" stroke="#3B6EAE" stroke-width="0.7"/>
<path d="M363.3,404.1 L363.6,404.1 L365.4,404.1 L369,404.2 L373.4,404.3 L377.6,404.4 L381.4,404.7 L385,404.9 L388.6,405.3 L392.5,405.8 L396.8,406.4 L401.6,407.1 L406.7,407.9 L411.7,408.6 L416.5,409.3 L420.8,409.9 L424.7,410.4 L428.3,410.8 L431.9,411.1 L435.7,411.3 L439.9,411.5 L444.3,411.6 L447.9,411.7 L449.7,411.7 L450,411.7 L450,413.3 L449.7,413.3 L447.9,413.2 L444.3,413.2 L439.9,413 L435.7,412.9 L431.9,412.7 L428.3,412.4 L424.7,412 L420.8,411.5 L416.5,410.9 L411.7,410.2 L406.7,409.4 L401.6,408.7 L396.8,408 L392.5,407.4 L388.6,406.9 L385,406.5 L381.4,406.2 L377.6,406 L373.4,405.8 L369,405.7 L365.4,405.6 L363.6,405.6 L363.3,405.6Z" fill="#3B6EAE" stroke="#3B6EAE" stroke-width="0.7"/>
<path d="M363.3,405.6 L363.6,405.6 L365.4,405.7 L369,405.8 L373.4,406 L377.6,406.2 L381.4,406.6 L385,407 L388.6,407.6 L392.5,408.4 L396.8,409.4 L401.6,410.5 L406.7,411.7 L411.7,412.9 L416.5,414 L420.8,414.9 L424.7,415.7 L428.3,416.3 L431.9,416.8 L435.7,417.1 L439.9,417.4 L444.3,417.6 L447.9,417.7 L449.7,417.7 L450,417.8 L450,418.1 L449.7,418.1 L447.9,418 L444.3,417.9 L439.9,417.7 L435.7,417.5 L431.9,417.1 L428.3,416.7 L424.7,416.1 L420.8,415.3 L416.5,414.3 L411.7,413.2 L406.7,412 L401.6,410.8 L396.8,409.7 L392.5,408.8 L388.6,408 L385,407.4 L381.4,406.9 L377.6,406.6 L373.4,406.3 L369,406.1 L365.4,406 L363.6,406 L363.3,406Z" fill="#3B6EAE" stroke="#3B6EAE" stroke-width="0.7"/>
<path d="M363.3,406 L363.6,406 L365.4,406 L369,406.1 L373.4,406.3 L377.6,406.6 L381.4,407 L385,407.4 L388.6,408.1 L392.5,408.9 L396.8,409.9 L401.6,411.1 L406.7,412.4 L411.7,413.6 L416.5,414.8 L420.8,415.8 L424.7,416.7 L428.3,417.3 L431.9,417.8 L435.7,418.2 L439.9,418.4 L444.3,418.6 L447.9,418.7 L449.7,418.8 L450,418.8 L450,419.1 L449.7,419.1 L447.9,419 L444.3,418.9 L439.9,418.7 L435.7,418.4 L431.9,418.1 L428.3,417.6 L424.7,416.9 L420.8,416.1 L416.5,415.1 L411.7,413.9 L406.7,412.6 L401.6,411.4 L396.8,410.2 L392.5,409.2 L388.6,408.4 L385,407.7 L381.4,407.2 L377.6,406.9 L373.4,406.6 L369,406.4 L365.4,406.3 L363.6,406.2 L363.3,406.2Z" fill="#3B6EAE" stroke="#3B6EAE" stroke-width="0.7"/>
<path d="M363.3,406.2 L363.6,406.2 L365.4,406.3 L369,406.4 L373.4,406.6 L377.6,406.9 L381.4,407.3 L385,407.8 L388.6,408.5 L392.5,409.3 L396.8,410.4 L401.6,411.6 L406.7,413 L411.7,414.3 L416.5,415.5 L420.8,416.6 L424.7,417.5 L428.3,418.2 L431.9,418.7 L435.7,419.1 L439.9,419.3 L444.3,419.6 L447.9,419.7 L449.7,419.7 L450,419.7 L450,420 L449.7,420 L447.9,420 L444.3,419.8 L439.9,419.6 L435.7,419.3 L431.9,419 L428.3,418.4 L424.7,417.8 L420.8,416.9 L416.5,415.8 L411.7,414.6 L406.7,413.3 L401.6,411.9 L396.8,410.7 L392.5,409.6 L388.6,408.8 L385,408.1 L381.4,407.6 L377.6,407.2 L373.4,406.9 L369,406.7 L365.4,406.6 L363.6,406.5 L363.3,406.5Z" fill="#3B6EAE" stroke="#3B6EAE" stroke-width="0.7"/>
<path d="M363.3,406.5 L363.6,406.5 L365.4,406.6 L369,406.7 L373.4,407 L377.6,407.4 L381.4,407.8 L385,408.5 L388.6,409.3 L392.5,410.4 L396.8,411.7 L401.6,413.3 L406.7,415 L411.7,416.6 L416.5,418.2 L420.8,419.5 L424.7,420.6 L428.3,421.4 L431.9,422.1 L435.7,422.6 L439.9,422.9 L444.3,423.2 L447.9,423.3 L449.7,423.4 L450,423.4 L450,424.7 L449.7,424.7 L447.9,424.6 L444.3,424.5 L439.9,424.2 L435.7,423.9 L431.9,423.4 L428.3,422.7 L424.7,421.9 L420.8,420.8 L416.5,419.5 L411.7,417.9 L406.7,416.2 L401.6,414.6 L396.8,413 L392.5,411.7 L388.6,410.6 L385,409.8 L381.4,409.1 L377.6,408.6 L373.4,408.3 L369,408 L365.4,407.9 L363.6,407.8 L363.3,407.8Z" fill="#3B6EAE" stroke="#3B6EAE" stroke-width="0.7"/>
<path d="M363.3,409.4 L363.6,409.4 L365.4,409.4 L369,409.4 L373.4,409.3 L377.6,409.1 L381.4,408.9 L385,408.7 L388.6,408.3 L392.5,407.9 L396.8,407.4 L401.6,406.8 L406.7,406.1 L411.7,405.4 L416.5,404.8 L420.8,404.3 L424.7,403.9 L428.3,403.5 L431.9,403.3 L435.7,403.1 L439.9,402.9 L444.3,402.8 L447.9,402.8 L449.7,402.8 L450,402.7 L450,403 L449.7,403.1 L447.9,403.1 L444.3,403.1 L439.9,403.2 L435.7,403.4 L431.9,403.6 L428.3,403.8 L424.7,404.2 L420.8,404.6 L416.5,405.1 L411.7,405.7 L406.7,406.4 L401.6,407.1 L396.8,407.7 L392.5,408.2 L388.6,408.6 L385,409 L381.4,409.2 L377.6,409.4 L373.4,409.6 L369,409.7 L365.4,409.7 L363.6,409.7 L363.3,409.8Z" fill="#7D7D7D" stroke="#7D7D7D" stroke-width="0.7"/>
<path d="M363.3,409.8 L363.6,409.8 L365.4,409.8 L369,409.8 L373.4,409.9 L377.6,409.9 L381.4,410 L385,410.2 L388.6,410.3 L392.5,410.6 L396.8,410.8 L401.6,411.2 L406.7,411.5 L411.7,411.8 L416.5,412.2 L420.8,412.4 L424.7,412.7 L428.3,412.8 L431.9,413 L435.7,413.1 L439.9,413.2 L444.3,413.2 L447.9,413.2 L449.7,413.3 L450,413.3 L450,413.5 L449.7,413.5 L447.9,413.5 L444.3,413.5 L439.9,413.4 L435.7,413.3 L431.9,413.2 L428.3,413.1 L424.7,412.9 L420.8,412.7 L416.5,412.4 L411.7,412.1 L406.7,411.8 L401.6,411.4 L396.8,411.1 L392.5,410.8 L388.6,410.6 L385,410.4 L381.4,410.3 L377.6,410.2 L373.4,410.1 L369,410 L365.4,410 L363.6,410 L363.3,410Z" fill="#7D7D7D" stroke="#7D7D7D" stroke-width="0.7"/>
<path d="M363.3,413.3 L363.6,413.3 L365.4,413.3 L369,413.2 L373.4,413 L377.6,412.8 L381.4,412.5 L385,412.1 L388.6,411.6 L392.5,411 L396.8,410.2 L401.6,409.2 L406.7,408.2 L411.7,407.2 L416.5,406.2 L420.8,405.4 L424.7,404.8 L428.3,404.2 L431.9,403.9 L435.7,403.6 L439.9,403.3 L444.3,403.2 L447.9,403.1 L449.7,403.1 L450,403 L450,404 L449.7,404 L447.9,404.1 L444.3,404.2 L439.9,404.3 L435.7,404.6 L431.9,404.8 L428.3,405.2 L424.7,405.8 L420.8,406.4 L416.5,407.2 L411.7,408.2 L406.7,409.2 L401.6,410.2 L396.8,411.1 L392.5,412 L388.6,412.6 L385,413.1 L381.4,413.5 L377.6,413.8 L373.4,414 L369,414.2 L365.4,414.3 L363.6,414.3 L363.3,414.3Z" fill="#58982C" stroke="#58982C" stroke-width="0.7"/>
<path d="M363.3,414.3 L363.6,414.3 L365.4,414.3 L369,414.2 L373.4,414.1 L377.6,414 L381.4,413.7 L385,413.5 L388.6,413.1 L392.5,412.6 L396.8,412 L401.6,411.3 L406.7,410.5 L411.7,409.8 L416.5,409.1 L420.8,408.5 L424.7,408 L428.3,407.6 L431.9,407.3 L435.7,407.1 L439.9,407 L444.3,406.9 L447.9,406.8 L449.7,406.8 L450,406.8 L450,407 L449.7,407 L447.9,407 L444.3,407.1 L439.9,407.2 L435.7,407.4 L431.9,407.6 L428.3,407.9 L424.7,408.2 L420.8,408.7 L416.5,409.3 L411.7,410 L406.7,410.8 L401.6,411.5 L396.8,412.2 L392.5,412.8 L388.6,413.3 L385,413.7 L381.4,414 L377.6,414.2 L373.4,414.3 L369,414.5 L365.4,414.5 L363.6,414.6 L363.3,414.6Z" fill="#58982C" stroke="#58982C" stroke-width="0.7"/>
<path d="M363.3,414.6 L363.6,414.6 L365.4,414.6 L369,414.6 L373.4,414.5 L377.6,414.5 L381.4,414.5 L385,414.4 L388.6,414.4 L392.5,414.3 L396.8,414.2 L401.6,414.1 L406.7,414 L411.7,413.9 L416.5,413.8 L420.8,413.7 L424.7,413.7 L428.3,413.6 L431.9,413.6 L435.7,413.6 L439.9,413.5 L444.3,413.5 L447.9,413.5 L449.7,413.5 L450,413.5 L450,414.3 L449.7,414.3 L447.9,414.3 L444.3,414.3 L439.9,414.4 L435.7,414.4 L431.9,414.4 L428.3,414.4 L424.7,414.5 L420.8,414.6 L416.5,414.7 L411.7,414.7 L406.7,414.9 L401.6,415 L396.8,415.1 L392.5,415.1 L388.6,415.2 L385,415.3 L381.4,415.3 L377.6,415.3 L373.4,415.4 L369,415.4 L365.4,415.4 L363.6,415.4 L363.3,415.4Z" fill="#58982C" stroke="#58982C" stroke-width="0.7"/>
<path d="M363.3,415.4 L363.6,415.4 L365.4,415.4 L369,415.4 L373.4,415.5 L377.6,415.5 L381.4,415.6 L385,415.7 L388.6,415.8 L392.5,416 L396.8,416.2 L401.6,416.5 L406.7,416.7 L411.7,417 L416.5,417.3 L420.8,417.5 L424.7,417.6 L428.3,417.8 L431.9,417.9 L435.7,418 L439.9,418 L444.3,418.1 L447.9,418.1 L449.7,418.1 L450,418.1 L450,418.5 L449.7,418.5 L447.9,418.4 L444.3,418.4 L439.9,418.4 L435.7,418.3 L431.9,418.2 L428.3,418.1 L424.7,418 L420.8,417.8 L416.5,417.6 L411.7,417.4 L406.7,417.1 L401.6,416.8 L396.8,416.6 L392.5,416.4 L388.6,416.2 L385,416.1 L381.4,416 L377.6,415.9 L373.4,415.8 L369,415.8 L365.4,415.8 L363.6,415.7 L363.3,415.7Z" fill="#58982C" stroke="#58982C" stroke-width="0.7"/>
<path d="M363.3,415.7 L363.6,415.8 L365.4,415.8 L369,415.8 L373.4,415.9 L377.6,416 L381.4,416.1 L385,416.2 L388.6,416.5 L392.5,416.7 L396.8,417.1 L401.6,417.5 L406.7,417.9 L411.7,418.3 L416.5,418.7 L420.8,419 L424.7,419.3 L428.3,419.5 L431.9,419.7 L435.7,419.8 L439.9,419.9 L444.3,420 L447.9,420 L449.7,420 L450,420 L450,420.4 L449.7,420.4 L447.9,420.4 L444.3,420.4 L439.9,420.3 L435.7,420.2 L431.9,420.1 L428.3,419.9 L424.7,419.7 L420.8,419.4 L416.5,419.1 L411.7,418.7 L406.7,418.3 L401.6,417.9 L396.8,417.5 L392.5,417.1 L388.6,416.9 L385,416.6 L381.4,416.5 L377.6,416.4 L373.4,416.3 L369,416.2 L365.4,416.2 L363.6,416.1 L363.3,416.1Z" fill="#58982C" stroke="#58982C" stroke-width="0.7"/>
<path d="M363.3,416.1 L363.6,416.2 L365.4,416.2 L369,416.3 L373.4,416.4 L377.6,416.6 L381.4,416.8 L385,417.1 L388.6,417.6 L392.5,418.1 L396.8,418.8 L401.6,419.6 L406.7,420.4 L411.7,421.3 L416.5,422 L420.8,422.7 L424.7,423.3 L428.3,423.7 L431.9,424 L435.7,424.3 L439.9,424.5 L444.3,424.6 L447.9,424.7 L449.7,424.7 L450,424.7 L450,425.2 L449.7,425.1 L447.9,425.1 L444.3,425 L439.9,424.9 L435.7,424.7 L431.9,424.5 L428.3,424.2 L424.7,423.7 L420.8,423.2 L416.5,422.5 L411.7,421.7 L406.7,420.9 L401.6,420 L396.8,419.3 L392.5,418.6 L388.6,418 L385,417.6 L381.4,417.3 L377.6,417 L373.4,416.8 L369,416.7 L365.4,416.6 L363.6,416.6 L363.3,416.6Z" fill="#58982C" stroke="#58982C" stroke-width="0.7"/>
<path d="M363.3,421.1 L363.6,421.1 L365.4,421.1 L369,420.9 L373.4,420.6 L377.6,420.3 L381.4,419.8 L385,419.1 L388.6,418.3 L392.5,417.2 L396.8,415.8 L401.6,414.3 L406.7,412.6 L411.7,410.9 L416.5,409.3 L420.8,408 L424.7,406.9 L428.3,406 L431.9,405.4 L435.7,404.9 L439.9,404.5 L444.3,404.3 L447.9,404.1 L449.7,404 L450,404 L450,405.8 L449.7,405.8 L447.9,405.9 L444.3,406 L439.9,406.3 L435.7,406.7 L431.9,407.1 L428.3,407.8 L424.7,408.6 L420.8,409.8 L416.5,411.1 L411.7,412.7 L406.7,414.3 L401.6,416 L396.8,417.6 L392.5,418.9 L388.6,420 L385,420.9 L381.4,421.6 L377.6,422 L373.4,422.4 L369,422.7 L365.4,422.8 L363.6,422.9 L363.3,422.9Z" fill="#5EB5CC" stroke="#5EB5CC" stroke-width="0.7"/>
<path d="M363.3,422.9 L363.6,422.9 L365.4,422.8 L369,422.7 L373.4,422.4 L377.6,422.1 L381.4,421.6 L385,421 L388.6,420.2 L392.5,419.2 L396.8,418 L401.6,416.5 L406.7,414.9 L411.7,413.4 L416.5,411.9 L420.8,410.7 L424.7,409.6 L428.3,408.8 L431.9,408.2 L435.7,407.8 L439.9,407.4 L444.3,407.2 L447.9,407 L449.7,407 L450,407 L450,407.2 L449.7,407.2 L447.9,407.3 L444.3,407.4 L439.9,407.7 L435.7,408 L431.9,408.5 L428.3,409.1 L424.7,409.9 L420.8,410.9 L416.5,412.1 L411.7,413.6 L406.7,415.2 L401.6,416.7 L396.8,418.2 L392.5,419.4 L388.6,420.5 L385,421.3 L381.4,421.9 L377.6,422.3 L373.4,422.7 L369,422.9 L365.4,423.1 L363.6,423.1 L363.3,423.1Z" fill="#5EB5CC" stroke="#5EB5CC" stroke-width="0.7"/>
<path d="M363.3,423.1 L363.6,423.1 L365.4,423.1 L369,423 L373.4,422.9 L377.6,422.7 L381.4,422.4 L385,422.1 L388.6,421.7 L392.5,421.1 L396.8,420.4 L401.6,419.6 L406.7,418.7 L411.7,417.9 L416.5,417 L420.8,416.4 L424.7,415.8 L428.3,415.3 L431.9,415 L435.7,414.8 L439.9,414.6 L444.3,414.4 L447.9,414.4 L449.7,414.3 L450,414.3 L450,415.7 L449.7,415.7 L447.9,415.7 L444.3,415.8 L439.9,416 L435.7,416.1 L431.9,416.4 L428.3,416.7 L424.7,417.2 L420.8,417.7 L416.5,418.4 L411.7,419.2 L406.7,420.1 L401.6,421 L396.8,421.8 L392.5,422.5 L388.6,423 L385,423.5 L381.4,423.8 L377.6,424.1 L373.4,424.2 L369,424.4 L365.4,424.5 L363.6,424.5 L363.3,424.5Z" fill="#5EB5CC" stroke="#5EB5CC" stroke-width="0.7"/>
<path d="M363.3,424.5 L363.6,424.5 L365.4,424.5 L369,424.4 L373.4,424.3 L377.6,424.2 L381.4,424 L385,423.8 L388.6,423.5 L392.5,423.1 L396.8,422.6 L401.6,422.1 L406.7,421.5 L411.7,420.9 L416.5,420.3 L420.8,419.9 L424.7,419.5 L428.3,419.2 L431.9,418.9 L435.7,418.8 L439.9,418.6 L444.3,418.5 L447.9,418.5 L449.7,418.5 L450,418.5 L450,418.8 L449.7,418.8 L447.9,418.8 L444.3,418.9 L439.9,419 L435.7,419.1 L431.9,419.3 L428.3,419.5 L424.7,419.8 L420.8,420.2 L416.5,420.7 L411.7,421.2 L406.7,421.8 L401.6,422.4 L396.8,423 L392.5,423.4 L388.6,423.8 L385,424.1 L381.4,424.4 L377.6,424.5 L373.4,424.7 L369,424.8 L365.4,424.8 L363.6,424.8 L363.3,424.8Z" fill="#5EB5CC" stroke="#5EB5CC" stroke-width="0.7"/>
<path d="M363.3,424.8 L363.6,424.8 L365.4,424.8 L369,424.8 L373.4,424.7 L377.6,424.5 L381.4,424.4 L385,424.2 L388.6,423.9 L392.5,423.5 L396.8,423 L401.6,422.5 L406.7,422 L411.7,421.4 L416.5,420.9 L420.8,420.4 L424.7,420 L428.3,419.7 L431.9,419.5 L435.7,419.4 L439.9,419.2 L444.3,419.1 L447.9,419.1 L449.7,419.1 L450,419.1 L450,419.2 L449.7,419.2 L447.9,419.2 L444.3,419.3 L439.9,419.4 L435.7,419.5 L431.9,419.7 L428.3,419.9 L424.7,420.2 L420.8,420.5 L416.5,421 L411.7,421.5 L406.7,422.1 L401.6,422.7 L396.8,423.2 L392.5,423.6 L388.6,424 L385,424.3 L381.4,424.5 L377.6,424.7 L373.4,424.8 L369,424.9 L365.4,424.9 L363.6,425 L363.3,425Z" fill="#5EB5CC" stroke="#5EB5CC" stroke-width="0.7"/>
<path d="M363.3,425 L363.6,425 L365.4,424.9 L369,424.9 L373.4,424.8 L377.6,424.7 L381.4,424.6 L385,424.4 L388.6,424.2 L392.5,423.9 L396.8,423.6 L401.6,423.1 L406.7,422.7 L411.7,422.2 L416.5,421.8 L420.8,421.5 L424.7,421.2 L428.3,420.9 L431.9,420.8 L435.7,420.6 L439.9,420.5 L444.3,420.5 L447.9,420.4 L449.7,420.4 L450,420.4 L450,420.6 L449.7,420.6 L447.9,420.6 L444.3,420.7 L439.9,420.7 L435.7,420.8 L431.9,421 L428.3,421.1 L424.7,421.4 L420.8,421.7 L416.5,422 L411.7,422.4 L406.7,422.9 L401.6,423.3 L396.8,423.7 L392.5,424.1 L388.6,424.4 L385,424.6 L381.4,424.8 L377.6,424.9 L373.4,425 L369,425.1 L365.4,425.1 L363.6,425.2 L363.3,425.2Z" fill="#5EB5CC" stroke="#5EB5CC" stroke-width="0.7"/>
<path d="M363.3,425.2 L363.6,425.2 L365.4,425.2 L369,425.2 L373.4,425.2 L377.6,425.2 L381.4,425.2 L385,425.2 L388.6,425.2 L392.5,425.2 L396.8,425.2 L401.6,425.2 L406.7,425.2 L411.7,425.2 L416.5,425.2 L420.8,425.2 L424.7,425.2 L428.3,425.2 L431.9,425.2 L435.7,425.2 L439.9,425.2 L444.3,425.2 L447.9,425.2 L449.7,425.2 L450,425.2 L450,427.7 L449.7,427.7 L447.9,427.7 L444.3,427.7 L439.9,427.7 L435.7,427.7 L431.9,427.7 L428.3,427.7 L424.7,427.7 L420.8,427.7 L416.5,427.7 L411.7,427.7 L406.7,427.7 L401.6,427.7 L396.8,427.7 L392.5,427.7 L388.6,427.7 L385,427.7 L381.4,427.7 L377.6,427.7 L373.4,427.7 L369,427.7 L365.4,427.7 L363.6,427.7 L363.3,427.7Z" fill="#5EB5CC" stroke="#5EB5CC" stroke-width="0.7"/>
</g>
<rect x="58.3" y="22" width="44" height="64.8" fill="#B22222"/>
<rect x="58.3" y="86.8" width="44" height="37.9" fill="#F5D54E"/>
<rect x="58.3" y="124.7" width="44" height="6.9" fill="#7B4B42"/>
<rect x="58.3" y="131.6" width="44" height="148.5" fill="#3B6EAE"/>
<rect x="58.3" y="280.1" width="44" height="24.5" fill="#7D7D7D"/>
<rect x="58.3" y="304.6" width="44" height="123.1" fill="#58982C"/>
<rect x="188.9" y="263.3" width="44" height="51.8" fill="#B22222"/>
<rect x="188.9" y="315.1" width="44" height="10.3" fill="#F5D54E"/>
<rect x="188.9" y="325.4" width="44" height="11.4" fill="#7B4B42"/>
<rect x="188.9" y="336.8" width="44" height="46.9" fill="#3B6EAE"/>
<rect x="188.9" y="383.7" width="44" height="6.9" fill="#7D7D7D"/>
<rect x="188.9" y="390.6" width="44" height="22.2" fill="#58982C"/>
<rect x="188.9" y="412.8" width="44" height="14.9" fill="#5EB5CC"/>
<rect x="319.3" y="353.2" width="44" height="24.4" fill="#B22222"/>
<rect x="319.3" y="377.6" width="44" height="4.2" fill="#F5D54E"/>
<rect x="319.3" y="381.8" width="44" height="12.1" fill="#7B4B42"/>
<rect x="319.3" y="393.9" width="44" height="13.9" fill="#3B6EAE"/>
<rect x="319.3" y="407.8" width="44" height="2.2" fill="#7D7D7D"/>
<rect x="319.3" y="410" width="44" height="6.6" fill="#58982C"/>
<rect x="319.3" y="416.6" width="44" height="11.1" fill="#5EB5CC"/>
<rect x="450" y="398.4" width="44" height="7.4" fill="#B22222"/>
<rect x="450" y="405.8" width="44" height="1.4" fill="#F5D54E"/>
<rect x="450" y="407.2" width="44" height="8.5" fill="#7B4B42"/>
<rect x="450" y="415.7" width="44" height="3.1" fill="#3B6EAE"/>
<rect x="450" y="418.8" width="44" height="0.4" fill="#7D7D7D"/>
<rect x="450" y="419.2" width="44" height="1.4" fill="#58982C"/>
<rect x="450" y="420.6" width="44" height="7.1" fill="#5EB5CC"/>
<path d="M37.1,2 V448 H516.5" fill="none" stroke="#111" stroke-width="1.3"/>
<path d="M34.3,14.6 H37.1" stroke="#1a1a1a" stroke-width="1"/>
<text transform="translate(31.6,18) scale(0.9,1)" text-anchor="end" class="t">1250</text>
<path d="M34.3,97.2 H37.1" stroke="#1a1a1a" stroke-width="1"/>
<text transform="translate(31.6,100.6) scale(0.9,1)" text-anchor="end" class="t">1000</text>
<path d="M34.3,179.8 H37.1" stroke="#1a1a1a" stroke-width="1"/>
<text transform="translate(31.6,183.2) scale(0.9,1)" text-anchor="end" class="t">750</text>
<path d="M34.3,262.5 H37.1" stroke="#1a1a1a" stroke-width="1"/>
<text transform="translate(31.6,265.9) scale(0.9,1)" text-anchor="end" class="t">500</text>
<path d="M34.3,345.1 H37.1" stroke="#1a1a1a" stroke-width="1"/>
<text transform="translate(31.6,348.5) scale(0.9,1)" text-anchor="end" class="t">250</text>
<path d="M34.3,427.7 H37.1" stroke="#1a1a1a" stroke-width="1"/>
<text transform="translate(31.6,431.1) scale(0.9,1)" text-anchor="end" class="t">0</text>
<path d="M80.3,448 V451" stroke="#1a1a1a" stroke-width="1"/>
<text transform="translate(80.3,458.9) scale(0.9,1)" text-anchor="middle" class="t">1</text>
<path d="M210.9,448 V451" stroke="#1a1a1a" stroke-width="1"/>
<text transform="translate(210.9,458.9) scale(0.9,1)" text-anchor="middle" class="t">2</text>
<path d="M341.3,448 V451" stroke="#1a1a1a" stroke-width="1"/>
<text transform="translate(341.3,458.9) scale(0.9,1)" text-anchor="middle" class="t">3</text>
<path d="M472,448 V451" stroke="#1a1a1a" stroke-width="1"/>
<text transform="translate(472,458.9) scale(0.9,1)" text-anchor="middle" class="t">4</text>
<text x="276" y="470.8" text-anchor="middle" class="a">Treatment line</text>
<text transform="translate(9.2,226.2) rotate(-90)" text-anchor="middle" class="a">No. of patients</text>
<rect x="433.7" y="87.9" width="15.3" height="15.9" fill="#B22222"/>
<text x="454.3" y="98.8" class="l">BR</text>
<rect x="433.7" y="103.8" width="15.3" height="15.9" fill="#F5D54E"/>
<text x="454.3" y="114.7" class="l">Chlorambucil</text>
<rect x="433.7" y="119.6" width="15.3" height="15.9" fill="#7B4B42"/>
<text x="454.3" y="130.6" class="l">Other</text>
<rect x="433.7" y="135.5" width="15.3" height="15.9" fill="#3B6EAE"/>
<text x="454.3" y="146.4" class="l">R−CHOP</text>
<rect x="433.7" y="151.4" width="15.3" height="15.9" fill="#7D7D7D"/>
<text x="454.3" y="162.3" class="l">R−CVP/FC</text>
<rect x="433.7" y="167.2" width="15.3" height="15.9" fill="#58982C"/>
<text x="454.3" y="178.2" class="l">R−single</text>
<rect x="433.7" y="183.1" width="15.3" height="15.9" fill="#5EB5CC"/>
<text x="454.3" y="194.1" class="l">Salvage</text>
</svg>
</body></html>
